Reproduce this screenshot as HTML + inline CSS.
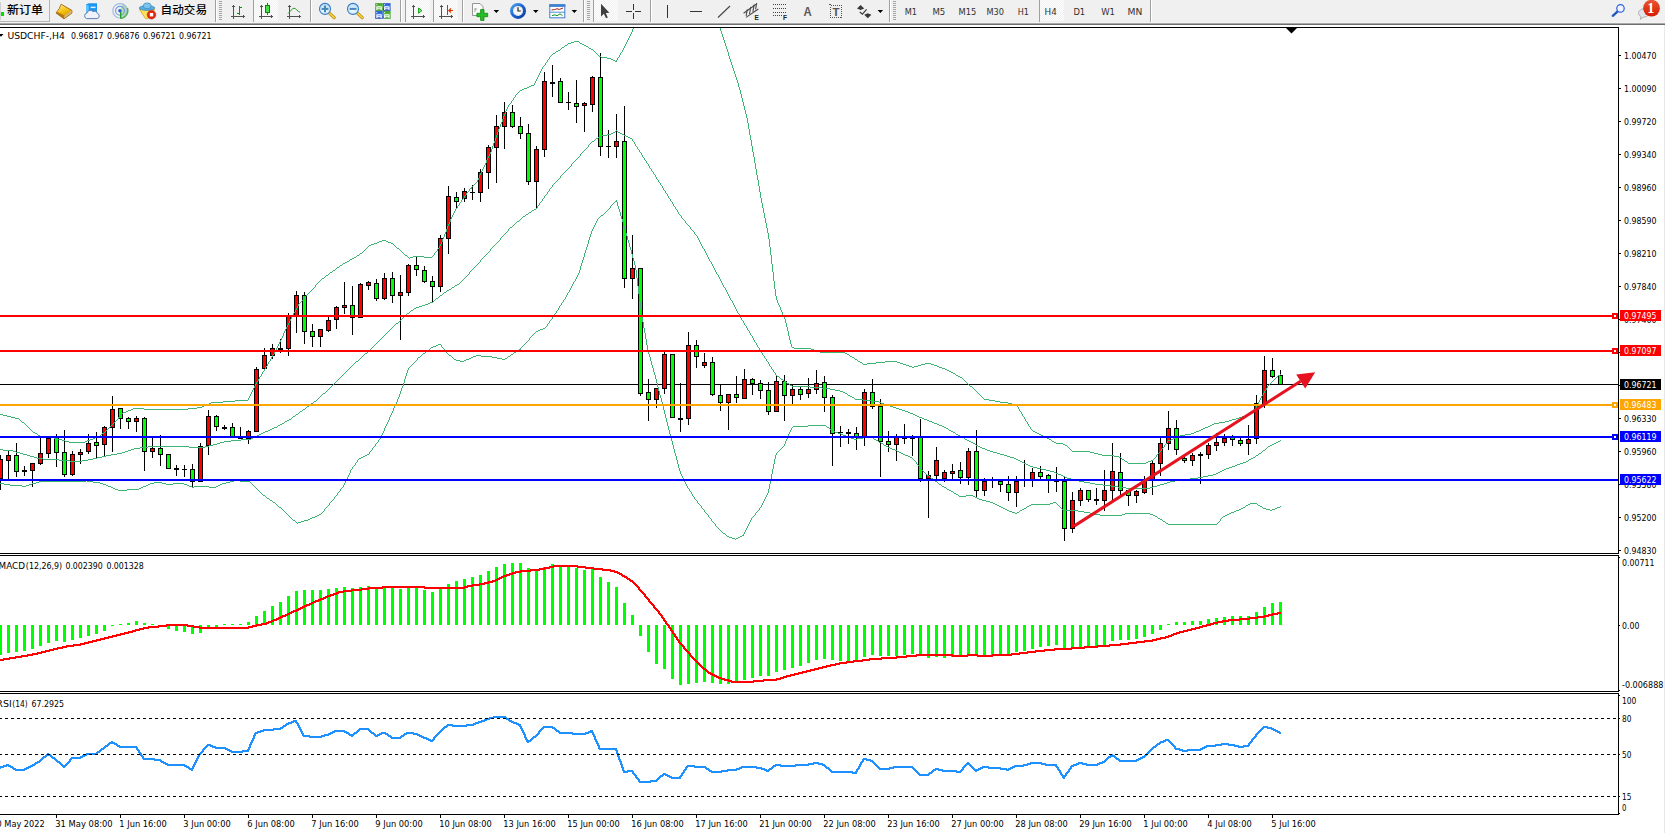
<!DOCTYPE html>
<html lang="zh-CN"><head><meta charset="utf-8"><title>USDCHF-,H4</title>
<style>
html,body{margin:0;padding:0;background:#fff;}
body{width:1665px;height:833px;overflow:hidden;position:relative;font-family:"Liberation Sans","Noto Sans CJK SC",sans-serif;}
#tb{position:absolute;left:0;top:0;width:1665px;height:25px;}
</style></head><body>
<svg id="tb" width="1665" height="25" viewBox="0 0 1665 25" font-family="'Liberation Sans','Noto Sans CJK SC',sans-serif">
<defs><linearGradient id="gGold" x1="0.2" y1="0" x2="0.8" y2="1"><stop offset="0" stop-color="#ffea80"/><stop offset="0.55" stop-color="#f5c010"/><stop offset="1" stop-color="#e0a000"/></linearGradient><linearGradient id="gBlue" x1="0" y1="0" x2="0" y2="1"><stop offset="0" stop-color="#1f50c8"/><stop offset="0.35" stop-color="#3a78e8"/><stop offset="1" stop-color="#1440b8"/></linearGradient><linearGradient id="gGreen" x1="0" y1="0" x2="0" y2="1"><stop offset="0" stop-color="#2c981c"/><stop offset="0.35" stop-color="#5cb83a"/><stop offset="1" stop-color="#2a9420"/></linearGradient><radialGradient id="gLens" cx="0.45" cy="0.7" r="0.8"><stop offset="0" stop-color="#eef8ff"/><stop offset="1" stop-color="#b4daf6"/></radialGradient><pattern id="chk" width="2" height="2" patternUnits="userSpaceOnUse"><rect width="2" height="2" fill="#f0f0f0"/><rect width="1" height="1" fill="#fff"/><rect x="1" y="1" width="1" height="1" fill="#fff"/></pattern><linearGradient id="gClock" x1="0" y1="0" x2="1" y2="1"><stop offset="0" stop-color="#4aa0f0"/><stop offset="0.5" stop-color="#1a64d0"/><stop offset="1" stop-color="#0a3ca0"/></linearGradient><linearGradient id="gBadge" x1="0" y1="0" x2="0" y2="1"><stop offset="0" stop-color="#ea5634"/><stop offset="1" stop-color="#d61a02"/></linearGradient></defs>
<rect x="0" y="0" width="1665" height="25" fill="#f0f0f0"/>
<g shape-rendering="crispEdges">
<rect x="0" y="22" width="1665" height="1" fill="#f4f4f4"/>
<rect x="0" y="23" width="1665" height="1" fill="#a8a8a8"/>
<rect x="0" y="24" width="1665" height="1" fill="#6e6e6e"/>
</g>
<g shape-rendering="crispEdges"><rect x="49" y="0" width="1" height="22" fill="#b4b4b4"/><rect x="0" y="21" width="50" height="1" fill="#b4b4b4"/><rect x="0" y="12" width="4" height="4" fill="#00e000"/><rect x="0" y="2" width="1" height="18" fill="#d0d0d0"/></g>
<text x="7" y="13.9" font-size="11.5px" font-weight="500" fill="#000" textLength="36" lengthAdjust="spacingAndGlyphs">新订单</text>
<g><polygon points="61.1,4.2 71.8,10.3 72,13 64,18.9 56,12.9 59.4,8.4" fill="#b87a10" stroke="#9a6208" stroke-width="0.8" stroke-linejoin="round"/><polygon points="64.4,15.7 71.4,10.6 71.6,12.7 64.2,18.2" fill="#ead9a2"/><path d="M64.4,16.6 L71.5,11.4 M64.3,17.5 L71.6,12.2" stroke="#b88a30" stroke-width="0.4" fill="none"/><polygon points="61.2,4.7 71.2,10.4 64.4,15.5 57.1,11.8 59.9,8.4" fill="url(#gGold)"/></g>
<g><polygon points="86,4.4 88.8,3.2 97,3.2 97,12.6 86,12.6" fill="#1e96ee"/><polygon points="86,4.4 88.8,5.6 88.8,12.6 86,12.6" fill="#62c2ff"/><rect x="90.6" y="6.6" width="5" height="1.5" fill="#d8efff"/><path d="M86.6,18.6 a2.9,2.9 0 0 1 0.4,-5.6 a3.4,3.4 0 0 1 6,-1.4 a3,3 0 0 1 4.4,1.8 a2.7,2.7 0 0 1 -0.2,5.2 z" fill="#eef2f9" stroke="#5d7db4" stroke-width="1"/></g>
<g fill="none"><path d="M120,10.8 L120.8,18.6 A8,8 0 0 0 123,3.4 z" fill="#9fd49f" stroke="none" opacity="0.75"/><circle cx="120" cy="10.8" r="7.2" stroke="#9db9e4" stroke-width="1.1"/><circle cx="120" cy="10.8" r="4.4" stroke="#6f97dc" stroke-width="1.1"/><path d="M120.6,18.4 A7.8,7.8 0 0 0 127.4,8" stroke="#58b058" stroke-width="1.4"/><rect x="120" y="11" width="1.3" height="7.6" fill="#22a022"/><circle cx="119.9" cy="10.7" r="1.7" fill="#2a5fd0" stroke="none"/></g>
<g><path d="M139.4,9.4 L154.6,9.4 L152,14 L147.6,18.8 L145.4,18.4 z" fill="#ffe15a" stroke="#d1a21a" stroke-width="0.8" stroke-linejoin="round"/><ellipse cx="147" cy="8" rx="7.8" ry="2.4" fill="#58aee2" stroke="#3a86b8" stroke-width="0.7"/><ellipse cx="147.2" cy="5.8" rx="4" ry="2.9" fill="#7cc4ee" stroke="#3a86b8" stroke-width="0.7"/><circle cx="151.5" cy="14.7" r="4.3" fill="#e42a0c" stroke="#b81c08" stroke-width="0.6"/><rect x="149.8" y="13" width="3.4" height="3.4" fill="#fff"/></g>
<text x="160.6" y="13.9" font-size="11.5px" font-weight="500" fill="#000" textLength="46.4" lengthAdjust="spacingAndGlyphs">自动交易</text>
<g shape-rendering="crispEdges"><rect x="215" y="0" width="1" height="22" fill="#a0a0a0"/><rect x="216" y="0" width="1" height="22" fill="#fff"/></g>
<g shape-rendering="crispEdges">
<rect x="219" y="1" width="3" height="1" fill="#a6a6a6"/>
<rect x="219" y="3" width="3" height="1" fill="#a6a6a6"/>
<rect x="219" y="5" width="3" height="1" fill="#a6a6a6"/>
<rect x="219" y="7" width="3" height="1" fill="#a6a6a6"/>
<rect x="219" y="9" width="3" height="1" fill="#a6a6a6"/>
<rect x="219" y="11" width="3" height="1" fill="#a6a6a6"/>
<rect x="219" y="13" width="3" height="1" fill="#a6a6a6"/>
<rect x="219" y="15" width="3" height="1" fill="#a6a6a6"/>
<rect x="219" y="17" width="3" height="1" fill="#a6a6a6"/>
<rect x="219" y="19" width="3" height="1" fill="#a6a6a6"/>
</g>
<g fill="#505050" shape-rendering="crispEdges"><rect x="233" y="5" width="1" height="14"/><rect x="231" y="16" width="14" height="1"/><rect x="232" y="6" width="3" height="1"/><rect x="243" y="15" width="1" height="3"/></g>
<g fill="#0a9010" shape-rendering="crispEdges"><rect x="239" y="6" width="1" height="9"/><rect x="240" y="7" width="2" height="1"/><rect x="237" y="13" width="2" height="1"/></g>
<rect x="254" y="0" width="24" height="21" fill="url(#chk)"/>
<rect x="253" y="0" width="1" height="22" fill="#a0a0a0" shape-rendering="crispEdges"/>
<g fill="#505050" shape-rendering="crispEdges"><rect x="261" y="5" width="1" height="14"/><rect x="259" y="16" width="14" height="1"/><rect x="260" y="6" width="3" height="1"/><rect x="271" y="15" width="1" height="3"/></g>
<g shape-rendering="crispEdges"><rect x="267" y="3" width="1" height="12" fill="#0a8a0a"/><rect x="265" y="5" width="5" height="8" fill="#0a8a0a"/><rect x="266" y="6" width="3" height="6" fill="#4ae04a"/></g>
<g fill="#505050" shape-rendering="crispEdges"><rect x="289" y="5" width="1" height="14"/><rect x="287" y="16" width="14" height="1"/><rect x="288" y="6" width="3" height="1"/><rect x="299" y="15" width="1" height="3"/></g>
<path d="M288,13.6 C290.5,11.4 292,8.2 294,8.2 C296,8.2 297.4,11.4 300,12.2" stroke="#2a9a2a" stroke-width="1" fill="none"/>
<g shape-rendering="crispEdges"><rect x="310" y="0" width="1" height="22" fill="#a0a0a0"/><rect x="311" y="0" width="1" height="22" fill="#fff"/></g>
<g><line x1="328.6" y1="12.4" x2="334.2" y2="17.6" stroke="#b98c14" stroke-width="3.2" stroke-linecap="round"/><line x1="328.6" y1="12.4" x2="334.2" y2="17.6" stroke="#f3d23c" stroke-width="1.7" stroke-linecap="round"/><circle cx="325" cy="8.9" r="5.5" fill="url(#gLens)" stroke="#3b7cc6" stroke-width="1.1"/><rect x="321.6" y="7.9" width="6.8" height="2" fill="#4787b8"/><rect x="324" y="5.5" width="2" height="6.8" fill="#4787b8"/></g>
<g><line x1="356.6" y1="12.4" x2="362.2" y2="17.6" stroke="#b98c14" stroke-width="3.2" stroke-linecap="round"/><line x1="356.6" y1="12.4" x2="362.2" y2="17.6" stroke="#f3d23c" stroke-width="1.7" stroke-linecap="round"/><circle cx="353" cy="8.9" r="5.5" fill="url(#gLens)" stroke="#3b7cc6" stroke-width="1.1"/><rect x="349.6" y="7.9" width="6.8" height="2" fill="#4787b8"/></g>
<rect x="375.2" y="3.2" width="7.6" height="7.6" fill="url(#gGreen)"/><rect x="376.2" y="4.2" width="1" height="1" fill="#fff" opacity="0.9"/><path d="M376.3,10.100000000000001 V7.0 Q376.3,6.300000000000001 377.0,6.300000000000001 H381.09999999999997 Q381.8,6.300000000000001 381.8,7.0 V10.100000000000001 H380.59999999999997 V9.3 H377.5 V10.100000000000001 z" fill="#fff"/><rect x="377.4" y="7.4" width="3.4" height="0.9" fill="url(#gGreen)" opacity="0.75"/>
<rect x="383" y="3.2" width="7.6" height="7.6" fill="url(#gBlue)"/><rect x="384" y="4.2" width="1" height="1" fill="#fff" opacity="0.9"/><path d="M384.1,10.100000000000001 V7.0 Q384.1,6.300000000000001 384.8,6.300000000000001 H388.9 Q389.6,6.300000000000001 389.6,7.0 V10.100000000000001 H388.4 V9.3 H385.3 V10.100000000000001 z" fill="#fff"/><rect x="385.2" y="7.4" width="3.4" height="0.9" fill="url(#gBlue)" opacity="0.75"/>
<rect x="375.2" y="11.1" width="7.6" height="7.6" fill="url(#gBlue)"/><rect x="376.2" y="12.1" width="1" height="1" fill="#fff" opacity="0.9"/><path d="M376.3,18.0 V14.899999999999999 Q376.3,14.2 377.0,14.2 H381.09999999999997 Q381.8,14.2 381.8,14.899999999999999 V18.0 H380.59999999999997 V17.2 H377.5 V18.0 z" fill="#fff"/><rect x="377.4" y="15.3" width="3.4" height="0.9" fill="url(#gBlue)" opacity="0.75"/>
<rect x="383" y="11.1" width="7.6" height="7.6" fill="url(#gGreen)"/><rect x="384" y="12.1" width="1" height="1" fill="#fff" opacity="0.9"/><path d="M384.1,18.0 V14.899999999999999 Q384.1,14.2 384.8,14.2 H388.9 Q389.6,14.2 389.6,14.899999999999999 V18.0 H388.4 V17.2 H385.3 V18.0 z" fill="#fff"/><rect x="385.2" y="15.3" width="3.4" height="0.9" fill="url(#gGreen)" opacity="0.75"/>
<g shape-rendering="crispEdges"><rect x="400" y="0" width="1" height="22" fill="#a0a0a0"/><rect x="401" y="0" width="1" height="22" fill="#fff"/></g>
<rect x="406" y="0" width="24" height="21" fill="url(#chk)"/>
<rect x="405" y="0" width="1" height="22" fill="#a0a0a0" shape-rendering="crispEdges"/>
<g fill="#505050" shape-rendering="crispEdges"><rect x="413" y="5" width="1" height="14"/><rect x="411" y="16" width="14" height="1"/><rect x="412" y="6" width="3" height="1"/><rect x="423" y="15" width="1" height="3"/></g>
<polygon points="418.5,8 418.5,13.2 422,10.6" fill="#7ee07e" stroke="#0a9a0a" stroke-width="0.9"/>
<rect x="434" y="0" width="24" height="21" fill="url(#chk)"/>
<rect x="433" y="0" width="1" height="22" fill="#a0a0a0" shape-rendering="crispEdges"/>
<g fill="#505050" shape-rendering="crispEdges"><rect x="441" y="5" width="1" height="14"/><rect x="439" y="16" width="14" height="1"/><rect x="440" y="6" width="3" height="1"/><rect x="451" y="15" width="1" height="3"/></g>
<rect x="447" y="5" width="1" height="10" fill="#1a6ab0" shape-rendering="crispEdges"/><path d="M453,10.5 H449 M451,8.5 L448.8,10.5 L451,12.5" stroke="#e03000" stroke-width="1.1" fill="none"/>
<g shape-rendering="crispEdges"><rect x="462" y="0" width="1" height="22" fill="#a0a0a0"/><rect x="463" y="0" width="1" height="22" fill="#fff"/></g>
<g><path d="M472.5,3.5 H480 L483,6.5 V15.5 H472.5 z" fill="#fafafa" stroke="#8a8a8a" stroke-width="0.9"/><path d="M475,8 V12 M475,9 H477" stroke="#8a8a8a" stroke-width="0.8" fill="none"/><path d="M480.6,9.6 h3.4 v3.7 h3.7 v3.4 h-3.7 v3.7 h-3.4 v-3.7 h-3.7 v-3.4 h3.7 z" fill="#22c022" stroke="#0a8a0a" stroke-width="0.8"/></g>
<polygon points="493.6,10 499.1,10 496.35,13" fill="#000"/>
<g><circle cx="518" cy="10.9" r="6.5" fill="#f4f6f8" stroke="url(#gClock)" stroke-width="3"/><circle cx="518" cy="10.9" r="4.4" fill="none" stroke="#a8b0b8" stroke-width="0.8" stroke-dasharray="0.7 1.6"/><path d="M518,7.2 V11 H520.8" stroke="#222" stroke-width="1.2" fill="none"/></g>
<polygon points="533,10 538.5,10 535.75,13" fill="#000"/>
<g><rect x="549.8" y="4.8" width="15" height="13" fill="#fff" stroke="#3d7fd0" stroke-width="1"/><rect x="549.3" y="4.3" width="16" height="2.6" fill="#3d7fd0"/><line x1="550" y1="12.2" x2="565" y2="12.2" stroke="#3d7fd0" stroke-width="0.9"/><path d="M551.5,10 L554.5,9.6 L557,8.8 L559.5,9.4 L563,8" stroke="#a02010" stroke-width="1" fill="none"/><path d="M552,15.6 L555,14.8 L557,15.8 L560,13.8 L562.5,15.6" stroke="#109020" stroke-width="1" fill="none"/></g>
<polygon points="571.6,10 577.1,10 574.35,13" fill="#000"/>
<g shape-rendering="crispEdges"><rect x="583" y="0" width="1" height="22" fill="#a0a0a0"/><rect x="584" y="0" width="1" height="22" fill="#fff"/></g>
<g shape-rendering="crispEdges">
<rect x="587" y="1" width="3" height="1" fill="#a6a6a6"/>
<rect x="587" y="3" width="3" height="1" fill="#a6a6a6"/>
<rect x="587" y="5" width="3" height="1" fill="#a6a6a6"/>
<rect x="587" y="7" width="3" height="1" fill="#a6a6a6"/>
<rect x="587" y="9" width="3" height="1" fill="#a6a6a6"/>
<rect x="587" y="11" width="3" height="1" fill="#a6a6a6"/>
<rect x="587" y="13" width="3" height="1" fill="#a6a6a6"/>
<rect x="587" y="15" width="3" height="1" fill="#a6a6a6"/>
<rect x="587" y="17" width="3" height="1" fill="#a6a6a6"/>
<rect x="587" y="19" width="3" height="1" fill="#a6a6a6"/>
</g>
<rect x="594" y="0" width="24" height="21" fill="url(#chk)"/>
<rect x="593" y="0" width="1" height="22" fill="#a0a0a0" shape-rendering="crispEdges"/>
<polygon points="601,3.8 601,16.4 603.9,13.7 606,18.3 607.8,17.5 605.8,13 609.4,12.7" fill="#404040"/>
<g shape-rendering="crispEdges" fill="#333"><rect x="633" y="4" width="1" height="15"/><rect x="626" y="11" width="15" height="1"/></g>
<rect x="632" y="10" width="3" height="3" fill="#f0f0f0"/>
<g shape-rendering="crispEdges"><rect x="650" y="0" width="1" height="22" fill="#a0a0a0"/><rect x="651" y="0" width="1" height="22" fill="#fff"/></g>
<g shape-rendering="crispEdges" fill="#333"><rect x="667" y="5" width="1" height="13"/><rect x="690" y="11" width="12" height="1"/></g>
<line x1="718" y1="17.5" x2="730" y2="6" stroke="#444" stroke-width="1.1"/>
<g stroke="#484848" stroke-width="1.1" fill="none"><line x1="743.6" y1="13.2" x2="756" y2="4.2"/><line x1="746" y1="17.4" x2="758.4" y2="9"/><line x1="747.3" y1="9.4" x2="746.1" y2="16"/><line x1="750.7" y1="7" x2="749.5" y2="14"/><line x1="754.1" y1="4.6" x2="752.9" y2="11.8"/><line x1="756.7" y1="3" x2="755.6" y2="9.4"/></g>
<text x="754.6" y="19.6" font-size="6.5px" font-weight="bold" fill="#222">E</text>
<g stroke="#444" stroke-width="1" stroke-dasharray="1 1" shape-rendering="crispEdges"><line x1="773" y1="4.5" x2="787" y2="4.5"/><line x1="773" y1="8.5" x2="787" y2="8.5"/><line x1="773" y1="12.5" x2="787" y2="12.5"/><line x1="773" y1="15.5" x2="783" y2="15.5"/></g>
<text x="783" y="19.6" font-size="6.5px" font-weight="bold" fill="#222">F</text>
<text x="803.6" y="15.9" font-size="12.2px" font-weight="bold" fill="#5a5a5a" textLength="8.2" lengthAdjust="spacingAndGlyphs">A</text>
<rect x="830.5" y="5.5" width="11" height="12" fill="none" stroke="#555" stroke-width="1" stroke-dasharray="1 1" shape-rendering="crispEdges"/><rect x="829" y="4" width="2" height="1" fill="#555" shape-rendering="crispEdges"/>
<text x="832.4" y="15.5" font-size="10.4px" font-weight="bold" fill="#555" textLength="7" lengthAdjust="spacingAndGlyphs">T</text>
<g fill="#3a3a3a"><polygon points="857,8.4 860.6,5 864.2,8.4 860.6,9.9"/><polygon points="864.2,14.8 867.8,13.3 871.4,14.8 867.8,18.2"/><path d="M859.8,12 L862.4,14.2 L866.6,9.4" stroke="#3a3a3a" stroke-width="1.2" fill="none"/></g>
<polygon points="877.6,10 883.1,10 880.35,13" fill="#000"/>
<g shape-rendering="crispEdges"><rect x="889" y="0" width="1" height="22" fill="#a0a0a0"/><rect x="890" y="0" width="1" height="22" fill="#fff"/></g>
<g shape-rendering="crispEdges">
<rect x="893" y="1" width="3" height="1" fill="#a6a6a6"/>
<rect x="893" y="3" width="3" height="1" fill="#a6a6a6"/>
<rect x="893" y="5" width="3" height="1" fill="#a6a6a6"/>
<rect x="893" y="7" width="3" height="1" fill="#a6a6a6"/>
<rect x="893" y="9" width="3" height="1" fill="#a6a6a6"/>
<rect x="893" y="11" width="3" height="1" fill="#a6a6a6"/>
<rect x="893" y="13" width="3" height="1" fill="#a6a6a6"/>
<rect x="893" y="15" width="3" height="1" fill="#a6a6a6"/>
<rect x="893" y="17" width="3" height="1" fill="#a6a6a6"/>
<rect x="893" y="19" width="3" height="1" fill="#a6a6a6"/>
</g>
<rect x="1040" y="0" width="24" height="21" fill="url(#chk)"/>
<rect x="1039" y="0" width="1" height="22" fill="#a0a0a0" shape-rendering="crispEdges"/>
<text x="904.7" y="15" font-family="'DejaVu Sans','Liberation Sans',sans-serif" font-size="9px" fill="#303030" textLength="12.3" lengthAdjust="spacingAndGlyphs">M1</text>
<text x="932.4" y="15" font-family="'DejaVu Sans','Liberation Sans',sans-serif" font-size="9px" fill="#303030" textLength="12.8" lengthAdjust="spacingAndGlyphs">M5</text>
<text x="958.5" y="15" font-family="'DejaVu Sans','Liberation Sans',sans-serif" font-size="9px" fill="#303030" textLength="17.7" lengthAdjust="spacingAndGlyphs">M15</text>
<text x="986.5" y="15" font-family="'DejaVu Sans','Liberation Sans',sans-serif" font-size="9px" fill="#303030" textLength="17.5" lengthAdjust="spacingAndGlyphs">M30</text>
<text x="1017.8" y="15" font-family="'DejaVu Sans','Liberation Sans',sans-serif" font-size="9px" fill="#303030" textLength="11.2" lengthAdjust="spacingAndGlyphs">H1</text>
<text x="1044.6" y="15" font-family="'DejaVu Sans','Liberation Sans',sans-serif" font-size="9px" fill="#303030" textLength="12.2" lengthAdjust="spacingAndGlyphs">H4</text>
<text x="1073.4" y="15" font-family="'DejaVu Sans','Liberation Sans',sans-serif" font-size="9px" fill="#303030" textLength="11.8" lengthAdjust="spacingAndGlyphs">D1</text>
<text x="1101.2" y="15" font-family="'DejaVu Sans','Liberation Sans',sans-serif" font-size="9px" fill="#303030" textLength="13.8" lengthAdjust="spacingAndGlyphs">W1</text>
<text x="1127.6" y="15" font-family="'DejaVu Sans','Liberation Sans',sans-serif" font-size="9px" fill="#303030" textLength="14.8" lengthAdjust="spacingAndGlyphs">MN</text>
<g shape-rendering="crispEdges"><rect x="1150" y="0" width="1" height="22" fill="#a0a0a0"/><rect x="1151" y="0" width="1" height="22" fill="#fff"/></g>
<g><line x1="1612.8" y1="15.8" x2="1617.4" y2="11.6" stroke="#2456c8" stroke-width="2.4" stroke-linecap="round"/><circle cx="1620.5" cy="8.4" r="3.7" fill="#f2f4ff" stroke="#2a62d8" stroke-width="1.2"/></g>
<g><path d="M1640.2,19.4 L1641,16.6 A5.2,4.2 0 1 1 1643.4,17.2 z" fill="#e2e2ec" stroke="#ababab" stroke-width="0.9" stroke-linejoin="round"/><circle cx="1651.5" cy="8.2" r="8.4" fill="url(#gBadge)"/><text x="1650.8" y="13.1" font-family="'Liberation Serif',serif" font-weight="bold" font-size="14.2px" fill="#fff" text-anchor="middle">1</text></g>
</svg>
<svg width="1665" height="808" viewBox="0 25 1665 808" style="position:absolute;left:0;top:25px" font-family="'DejaVu Sans', 'Liberation Sans', sans-serif" font-size="9px">
<defs><clipPath id="cm"><rect x="0" y="28" width="1618" height="525"/></clipPath><clipPath id="c2"><rect x="0" y="556" width="1618" height="135"/></clipPath><clipPath id="c3"><rect x="0" y="694" width="1618" height="120"/></clipPath></defs>
<rect x="0" y="25" width="1665" height="808" fill="#fff"/>
<rect x="1664" y="25" width="1" height="808" fill="#e8e8e8"/>
<g shape-rendering="crispEdges">
<rect x="0" y="384" width="1618" height="1" fill="#000"/>
<rect x="0" y="455" width="1" height="35" fill="#000"/>
<rect x="-2" y="459" width="5" height="20" fill="#000"/>
<rect x="-1" y="460" width="3" height="18" fill="#ff0000"/>
<rect x="8" y="451" width="1" height="29" fill="#000"/>
<rect x="6" y="455" width="5" height="6" fill="#000"/>
<rect x="7" y="456" width="3" height="4" fill="#ff0000"/>
<rect x="16" y="443" width="1" height="34" fill="#000"/>
<rect x="14" y="455" width="5" height="17" fill="#000"/>
<rect x="15" y="456" width="3" height="15" fill="#00ff00"/>
<rect x="24" y="466" width="1" height="10" fill="#000"/>
<rect x="22" y="470" width="5" height="2" fill="#000"/>
<rect x="32" y="463" width="1" height="24" fill="#000"/>
<rect x="30" y="463" width="5" height="8" fill="#000"/>
<rect x="31" y="464" width="3" height="6" fill="#ff0000"/>
<rect x="40" y="436" width="1" height="29" fill="#000"/>
<rect x="38" y="453" width="5" height="11" fill="#000"/>
<rect x="39" y="454" width="3" height="9" fill="#ff0000"/>
<rect x="48" y="438" width="1" height="20" fill="#000"/>
<rect x="46" y="438" width="5" height="16" fill="#000"/>
<rect x="47" y="439" width="3" height="14" fill="#ff0000"/>
<rect x="56" y="434" width="1" height="33" fill="#000"/>
<rect x="54" y="438" width="5" height="15" fill="#000"/>
<rect x="55" y="439" width="3" height="13" fill="#00ff00"/>
<rect x="64" y="430" width="1" height="47" fill="#000"/>
<rect x="62" y="452" width="5" height="23" fill="#000"/>
<rect x="63" y="453" width="3" height="21" fill="#00ff00"/>
<rect x="72" y="451" width="1" height="25" fill="#000"/>
<rect x="70" y="454" width="5" height="21" fill="#000"/>
<rect x="71" y="455" width="3" height="19" fill="#ff0000"/>
<rect x="80" y="449" width="1" height="15" fill="#000"/>
<rect x="78" y="452" width="5" height="3" fill="#000"/>
<rect x="79" y="453" width="3" height="1" fill="#ff0000"/>
<rect x="88" y="434" width="1" height="20" fill="#000"/>
<rect x="86" y="443" width="5" height="9" fill="#000"/>
<rect x="87" y="444" width="3" height="7" fill="#ff0000"/>
<rect x="96" y="432" width="1" height="26" fill="#000"/>
<rect x="94" y="442" width="5" height="4" fill="#000"/>
<rect x="95" y="443" width="3" height="2" fill="#00ff00"/>
<rect x="104" y="426" width="1" height="30" fill="#000"/>
<rect x="102" y="427" width="5" height="18" fill="#000"/>
<rect x="103" y="428" width="3" height="16" fill="#ff0000"/>
<rect x="112" y="396" width="1" height="56" fill="#000"/>
<rect x="110" y="409" width="5" height="19" fill="#000"/>
<rect x="111" y="410" width="3" height="17" fill="#ff0000"/>
<rect x="120" y="408" width="1" height="21" fill="#000"/>
<rect x="118" y="408" width="5" height="11" fill="#000"/>
<rect x="119" y="409" width="3" height="9" fill="#00ff00"/>
<rect x="128" y="417" width="1" height="12" fill="#000"/>
<rect x="126" y="418" width="5" height="4" fill="#000"/>
<rect x="127" y="419" width="3" height="2" fill="#00ff00"/>
<rect x="136" y="416" width="1" height="16" fill="#000"/>
<rect x="134" y="418" width="5" height="4" fill="#000"/>
<rect x="135" y="419" width="3" height="2" fill="#ff0000"/>
<rect x="144" y="417" width="1" height="54" fill="#000"/>
<rect x="142" y="418" width="5" height="34" fill="#000"/>
<rect x="143" y="419" width="3" height="32" fill="#00ff00"/>
<rect x="152" y="438" width="1" height="20" fill="#000"/>
<rect x="150" y="448" width="5" height="4" fill="#000"/>
<rect x="151" y="449" width="3" height="2" fill="#ff0000"/>
<rect x="160" y="435" width="1" height="31" fill="#000"/>
<rect x="158" y="448" width="5" height="7" fill="#000"/>
<rect x="159" y="449" width="3" height="5" fill="#00ff00"/>
<rect x="168" y="454" width="1" height="15" fill="#000"/>
<rect x="166" y="454" width="5" height="15" fill="#000"/>
<rect x="167" y="455" width="3" height="13" fill="#00ff00"/>
<rect x="176" y="465" width="1" height="11" fill="#000"/>
<rect x="174" y="468" width="5" height="2" fill="#000"/>
<rect x="184" y="465" width="1" height="12" fill="#000"/>
<rect x="182" y="469" width="5" height="1" fill="#000"/>
<rect x="192" y="464" width="1" height="23" fill="#000"/>
<rect x="190" y="469" width="5" height="13" fill="#000"/>
<rect x="191" y="470" width="3" height="11" fill="#00ff00"/>
<rect x="200" y="443" width="1" height="39" fill="#000"/>
<rect x="198" y="446" width="5" height="36" fill="#000"/>
<rect x="199" y="447" width="3" height="34" fill="#ff0000"/>
<rect x="208" y="410" width="1" height="45" fill="#000"/>
<rect x="206" y="416" width="5" height="30" fill="#000"/>
<rect x="207" y="417" width="3" height="28" fill="#ff0000"/>
<rect x="216" y="415" width="1" height="16" fill="#000"/>
<rect x="214" y="416" width="5" height="11" fill="#000"/>
<rect x="215" y="417" width="3" height="9" fill="#00ff00"/>
<rect x="224" y="425" width="1" height="5" fill="#000"/>
<rect x="222" y="427" width="5" height="2" fill="#000"/>
<rect x="232" y="423" width="1" height="15" fill="#000"/>
<rect x="230" y="427" width="5" height="11" fill="#000"/>
<rect x="231" y="428" width="3" height="9" fill="#00ff00"/>
<rect x="240" y="427" width="1" height="12" fill="#000"/>
<rect x="238" y="438" width="5" height="1" fill="#000"/>
<rect x="248" y="430" width="1" height="14" fill="#000"/>
<rect x="246" y="431" width="5" height="8" fill="#000"/>
<rect x="247" y="432" width="3" height="6" fill="#ff0000"/>
<rect x="256" y="367" width="1" height="65" fill="#000"/>
<rect x="254" y="369" width="5" height="63" fill="#000"/>
<rect x="255" y="370" width="3" height="61" fill="#ff0000"/>
<rect x="264" y="348" width="1" height="23" fill="#000"/>
<rect x="262" y="355" width="5" height="14" fill="#000"/>
<rect x="263" y="356" width="3" height="12" fill="#ff0000"/>
<rect x="272" y="344" width="1" height="15" fill="#000"/>
<rect x="270" y="348" width="5" height="8" fill="#000"/>
<rect x="271" y="349" width="3" height="6" fill="#ff0000"/>
<rect x="280" y="339" width="1" height="14" fill="#000"/>
<rect x="278" y="348" width="5" height="2" fill="#000"/>
<rect x="288" y="313" width="1" height="43" fill="#000"/>
<rect x="286" y="316" width="5" height="33" fill="#000"/>
<rect x="287" y="317" width="3" height="31" fill="#ff0000"/>
<rect x="296" y="291" width="1" height="42" fill="#000"/>
<rect x="294" y="295" width="5" height="22" fill="#000"/>
<rect x="295" y="296" width="3" height="20" fill="#ff0000"/>
<rect x="304" y="292" width="1" height="52" fill="#000"/>
<rect x="302" y="295" width="5" height="37" fill="#000"/>
<rect x="303" y="296" width="3" height="35" fill="#00ff00"/>
<rect x="312" y="324" width="1" height="23" fill="#000"/>
<rect x="310" y="331" width="5" height="6" fill="#000"/>
<rect x="311" y="332" width="3" height="4" fill="#00ff00"/>
<rect x="320" y="329" width="1" height="18" fill="#000"/>
<rect x="318" y="329" width="5" height="8" fill="#000"/>
<rect x="319" y="330" width="3" height="6" fill="#ff0000"/>
<rect x="328" y="317" width="1" height="15" fill="#000"/>
<rect x="326" y="320" width="5" height="11" fill="#000"/>
<rect x="327" y="321" width="3" height="9" fill="#ff0000"/>
<rect x="336" y="306" width="1" height="23" fill="#000"/>
<rect x="334" y="307" width="5" height="13" fill="#000"/>
<rect x="335" y="308" width="3" height="11" fill="#ff0000"/>
<rect x="344" y="282" width="1" height="32" fill="#000"/>
<rect x="342" y="305" width="5" height="3" fill="#000"/>
<rect x="343" y="306" width="3" height="1" fill="#ff0000"/>
<rect x="352" y="286" width="1" height="49" fill="#000"/>
<rect x="350" y="305" width="5" height="13" fill="#000"/>
<rect x="351" y="306" width="3" height="11" fill="#00ff00"/>
<rect x="360" y="283" width="1" height="35" fill="#000"/>
<rect x="358" y="284" width="5" height="34" fill="#000"/>
<rect x="359" y="285" width="3" height="32" fill="#ff0000"/>
<rect x="368" y="281" width="1" height="9" fill="#000"/>
<rect x="366" y="282" width="5" height="4" fill="#000"/>
<rect x="367" y="283" width="3" height="2" fill="#ff0000"/>
<rect x="376" y="279" width="1" height="22" fill="#000"/>
<rect x="374" y="283" width="5" height="16" fill="#000"/>
<rect x="375" y="284" width="3" height="14" fill="#00ff00"/>
<rect x="384" y="273" width="1" height="27" fill="#000"/>
<rect x="382" y="278" width="5" height="21" fill="#000"/>
<rect x="383" y="279" width="3" height="19" fill="#ff0000"/>
<rect x="392" y="272" width="1" height="31" fill="#000"/>
<rect x="390" y="278" width="5" height="18" fill="#000"/>
<rect x="391" y="279" width="3" height="16" fill="#00ff00"/>
<rect x="400" y="275" width="1" height="65" fill="#000"/>
<rect x="398" y="292" width="5" height="4" fill="#000"/>
<rect x="399" y="293" width="3" height="2" fill="#ff0000"/>
<rect x="408" y="264" width="1" height="32" fill="#000"/>
<rect x="406" y="265" width="5" height="28" fill="#000"/>
<rect x="407" y="266" width="3" height="26" fill="#ff0000"/>
<rect x="416" y="257" width="1" height="19" fill="#000"/>
<rect x="414" y="265" width="5" height="5" fill="#000"/>
<rect x="415" y="266" width="3" height="3" fill="#00ff00"/>
<rect x="424" y="266" width="1" height="17" fill="#000"/>
<rect x="422" y="270" width="5" height="12" fill="#000"/>
<rect x="423" y="271" width="3" height="10" fill="#00ff00"/>
<rect x="432" y="276" width="1" height="26" fill="#000"/>
<rect x="430" y="281" width="5" height="6" fill="#000"/>
<rect x="431" y="282" width="3" height="4" fill="#00ff00"/>
<rect x="440" y="235" width="1" height="57" fill="#000"/>
<rect x="438" y="238" width="5" height="49" fill="#000"/>
<rect x="439" y="239" width="3" height="47" fill="#ff0000"/>
<rect x="448" y="186" width="1" height="68" fill="#000"/>
<rect x="446" y="196" width="5" height="43" fill="#000"/>
<rect x="447" y="197" width="3" height="41" fill="#ff0000"/>
<rect x="456" y="192" width="1" height="16" fill="#000"/>
<rect x="454" y="197" width="5" height="5" fill="#000"/>
<rect x="455" y="198" width="3" height="3" fill="#00ff00"/>
<rect x="464" y="188" width="1" height="14" fill="#000"/>
<rect x="462" y="191" width="5" height="8" fill="#000"/>
<rect x="463" y="192" width="3" height="6" fill="#ff0000"/>
<rect x="472" y="185" width="1" height="15" fill="#000"/>
<rect x="470" y="192" width="5" height="1" fill="#000"/>
<rect x="480" y="169" width="1" height="33" fill="#000"/>
<rect x="478" y="172" width="5" height="21" fill="#000"/>
<rect x="479" y="173" width="3" height="19" fill="#ff0000"/>
<rect x="488" y="145" width="1" height="44" fill="#000"/>
<rect x="486" y="147" width="5" height="26" fill="#000"/>
<rect x="487" y="148" width="3" height="24" fill="#ff0000"/>
<rect x="496" y="115" width="1" height="68" fill="#000"/>
<rect x="494" y="126" width="5" height="22" fill="#000"/>
<rect x="495" y="127" width="3" height="20" fill="#ff0000"/>
<rect x="504" y="102" width="1" height="47" fill="#000"/>
<rect x="502" y="112" width="5" height="15" fill="#000"/>
<rect x="503" y="113" width="3" height="13" fill="#ff0000"/>
<rect x="512" y="105" width="1" height="23" fill="#000"/>
<rect x="510" y="112" width="5" height="15" fill="#000"/>
<rect x="511" y="113" width="3" height="13" fill="#00ff00"/>
<rect x="520" y="117" width="1" height="22" fill="#000"/>
<rect x="518" y="126" width="5" height="8" fill="#000"/>
<rect x="519" y="127" width="3" height="6" fill="#00ff00"/>
<rect x="528" y="124" width="1" height="61" fill="#000"/>
<rect x="526" y="133" width="5" height="49" fill="#000"/>
<rect x="527" y="134" width="3" height="47" fill="#00ff00"/>
<rect x="536" y="146" width="1" height="62" fill="#000"/>
<rect x="534" y="149" width="5" height="33" fill="#000"/>
<rect x="535" y="150" width="3" height="31" fill="#ff0000"/>
<rect x="544" y="72" width="1" height="85" fill="#000"/>
<rect x="542" y="81" width="5" height="69" fill="#000"/>
<rect x="543" y="82" width="3" height="67" fill="#ff0000"/>
<rect x="552" y="65" width="1" height="32" fill="#000"/>
<rect x="550" y="82" width="5" height="2" fill="#000"/>
<rect x="560" y="78" width="1" height="25" fill="#000"/>
<rect x="558" y="81" width="5" height="22" fill="#000"/>
<rect x="559" y="82" width="3" height="20" fill="#00ff00"/>
<rect x="568" y="92" width="1" height="18" fill="#000"/>
<rect x="566" y="102" width="5" height="1" fill="#000"/>
<rect x="576" y="80" width="1" height="43" fill="#000"/>
<rect x="574" y="103" width="5" height="4" fill="#000"/>
<rect x="575" y="104" width="3" height="2" fill="#00ff00"/>
<rect x="584" y="102" width="1" height="30" fill="#000"/>
<rect x="582" y="103" width="5" height="3" fill="#000"/>
<rect x="583" y="104" width="3" height="1" fill="#ff0000"/>
<rect x="592" y="76" width="1" height="36" fill="#000"/>
<rect x="590" y="77" width="5" height="28" fill="#000"/>
<rect x="591" y="78" width="3" height="26" fill="#ff0000"/>
<rect x="600" y="53" width="1" height="103" fill="#000"/>
<rect x="598" y="77" width="5" height="70" fill="#000"/>
<rect x="599" y="78" width="3" height="68" fill="#00ff00"/>
<rect x="608" y="130" width="1" height="28" fill="#000"/>
<rect x="606" y="146" width="5" height="1" fill="#000"/>
<rect x="616" y="114" width="1" height="44" fill="#000"/>
<rect x="614" y="141" width="5" height="6" fill="#000"/>
<rect x="615" y="142" width="3" height="4" fill="#ff0000"/>
<rect x="624" y="106" width="1" height="182" fill="#000"/>
<rect x="622" y="141" width="5" height="138" fill="#000"/>
<rect x="623" y="142" width="3" height="136" fill="#00ff00"/>
<rect x="632" y="235" width="1" height="64" fill="#000"/>
<rect x="630" y="268" width="5" height="11" fill="#000"/>
<rect x="631" y="269" width="3" height="9" fill="#ff0000"/>
<rect x="640" y="268" width="1" height="128" fill="#000"/>
<rect x="638" y="268" width="5" height="126" fill="#000"/>
<rect x="639" y="269" width="3" height="124" fill="#00ff00"/>
<rect x="648" y="379" width="1" height="42" fill="#000"/>
<rect x="646" y="392" width="5" height="8" fill="#000"/>
<rect x="647" y="393" width="3" height="6" fill="#00ff00"/>
<rect x="656" y="388" width="1" height="20" fill="#000"/>
<rect x="654" y="388" width="5" height="12" fill="#000"/>
<rect x="655" y="389" width="3" height="10" fill="#ff0000"/>
<rect x="664" y="352" width="1" height="42" fill="#000"/>
<rect x="662" y="354" width="5" height="35" fill="#000"/>
<rect x="663" y="355" width="3" height="33" fill="#ff0000"/>
<rect x="672" y="354" width="1" height="64" fill="#000"/>
<rect x="670" y="354" width="5" height="64" fill="#000"/>
<rect x="671" y="355" width="3" height="62" fill="#00ff00"/>
<rect x="680" y="383" width="1" height="49" fill="#000"/>
<rect x="678" y="418" width="5" height="2" fill="#000"/>
<rect x="688" y="332" width="1" height="93" fill="#000"/>
<rect x="686" y="345" width="5" height="74" fill="#000"/>
<rect x="687" y="346" width="3" height="72" fill="#ff0000"/>
<rect x="696" y="340" width="1" height="28" fill="#000"/>
<rect x="694" y="345" width="5" height="12" fill="#000"/>
<rect x="695" y="346" width="3" height="10" fill="#00ff00"/>
<rect x="704" y="353" width="1" height="15" fill="#000"/>
<rect x="702" y="362" width="5" height="4" fill="#000"/>
<rect x="703" y="363" width="3" height="2" fill="#ff0000"/>
<rect x="712" y="357" width="1" height="39" fill="#000"/>
<rect x="710" y="362" width="5" height="33" fill="#000"/>
<rect x="711" y="363" width="3" height="31" fill="#00ff00"/>
<rect x="720" y="385" width="1" height="26" fill="#000"/>
<rect x="718" y="395" width="5" height="8" fill="#000"/>
<rect x="719" y="396" width="3" height="6" fill="#00ff00"/>
<rect x="728" y="394" width="1" height="36" fill="#000"/>
<rect x="726" y="394" width="5" height="9" fill="#000"/>
<rect x="727" y="395" width="3" height="7" fill="#ff0000"/>
<rect x="736" y="376" width="1" height="27" fill="#000"/>
<rect x="734" y="394" width="5" height="4" fill="#000"/>
<rect x="735" y="395" width="3" height="2" fill="#00ff00"/>
<rect x="744" y="369" width="1" height="30" fill="#000"/>
<rect x="742" y="379" width="5" height="20" fill="#000"/>
<rect x="743" y="380" width="3" height="18" fill="#ff0000"/>
<rect x="752" y="378" width="1" height="17" fill="#000"/>
<rect x="750" y="379" width="5" height="5" fill="#000"/>
<rect x="751" y="380" width="3" height="3" fill="#00ff00"/>
<rect x="760" y="380" width="1" height="19" fill="#000"/>
<rect x="758" y="383" width="5" height="8" fill="#000"/>
<rect x="759" y="384" width="3" height="6" fill="#00ff00"/>
<rect x="768" y="382" width="1" height="33" fill="#000"/>
<rect x="766" y="390" width="5" height="22" fill="#000"/>
<rect x="767" y="391" width="3" height="20" fill="#00ff00"/>
<rect x="776" y="376" width="1" height="36" fill="#000"/>
<rect x="774" y="381" width="5" height="31" fill="#000"/>
<rect x="775" y="382" width="3" height="29" fill="#ff0000"/>
<rect x="784" y="375" width="1" height="46" fill="#000"/>
<rect x="782" y="381" width="5" height="15" fill="#000"/>
<rect x="783" y="382" width="3" height="13" fill="#00ff00"/>
<rect x="792" y="385" width="1" height="19" fill="#000"/>
<rect x="790" y="389" width="5" height="7" fill="#000"/>
<rect x="791" y="390" width="3" height="5" fill="#ff0000"/>
<rect x="800" y="386" width="1" height="14" fill="#000"/>
<rect x="798" y="389" width="5" height="6" fill="#000"/>
<rect x="799" y="390" width="3" height="4" fill="#00ff00"/>
<rect x="808" y="378" width="1" height="20" fill="#000"/>
<rect x="806" y="389" width="5" height="5" fill="#000"/>
<rect x="807" y="390" width="3" height="3" fill="#ff0000"/>
<rect x="816" y="370" width="1" height="24" fill="#000"/>
<rect x="814" y="383" width="5" height="7" fill="#000"/>
<rect x="815" y="384" width="3" height="5" fill="#ff0000"/>
<rect x="824" y="376" width="1" height="36" fill="#000"/>
<rect x="822" y="382" width="5" height="16" fill="#000"/>
<rect x="823" y="383" width="3" height="14" fill="#00ff00"/>
<rect x="832" y="395" width="1" height="71" fill="#000"/>
<rect x="830" y="397" width="5" height="37" fill="#000"/>
<rect x="831" y="398" width="3" height="35" fill="#00ff00"/>
<rect x="840" y="426" width="1" height="21" fill="#000"/>
<rect x="838" y="432" width="5" height="1" fill="#000"/>
<rect x="848" y="429" width="1" height="15" fill="#000"/>
<rect x="846" y="432" width="5" height="2" fill="#000"/>
<rect x="856" y="427" width="1" height="23" fill="#000"/>
<rect x="854" y="433" width="5" height="4" fill="#000"/>
<rect x="855" y="434" width="3" height="2" fill="#00ff00"/>
<rect x="864" y="389" width="1" height="57" fill="#000"/>
<rect x="862" y="392" width="5" height="45" fill="#000"/>
<rect x="863" y="393" width="3" height="43" fill="#ff0000"/>
<rect x="872" y="379" width="1" height="30" fill="#000"/>
<rect x="870" y="392" width="5" height="15" fill="#000"/>
<rect x="871" y="393" width="3" height="13" fill="#00ff00"/>
<rect x="880" y="399" width="1" height="78" fill="#000"/>
<rect x="878" y="406" width="5" height="36" fill="#000"/>
<rect x="879" y="407" width="3" height="34" fill="#00ff00"/>
<rect x="888" y="431" width="1" height="21" fill="#000"/>
<rect x="886" y="441" width="5" height="4" fill="#000"/>
<rect x="887" y="442" width="3" height="2" fill="#00ff00"/>
<rect x="896" y="434" width="1" height="27" fill="#000"/>
<rect x="894" y="437" width="5" height="8" fill="#000"/>
<rect x="895" y="438" width="3" height="6" fill="#ff0000"/>
<rect x="904" y="424" width="1" height="20" fill="#000"/>
<rect x="902" y="438" width="5" height="1" fill="#000"/>
<rect x="912" y="435" width="1" height="21" fill="#000"/>
<rect x="910" y="438" width="5" height="1" fill="#000"/>
<rect x="920" y="419" width="1" height="63" fill="#000"/>
<rect x="918" y="437" width="5" height="42" fill="#000"/>
<rect x="919" y="438" width="3" height="40" fill="#00ff00"/>
<rect x="928" y="471" width="1" height="47" fill="#000"/>
<rect x="926" y="475" width="5" height="4" fill="#000"/>
<rect x="927" y="476" width="3" height="2" fill="#ff0000"/>
<rect x="936" y="447" width="1" height="32" fill="#000"/>
<rect x="934" y="460" width="5" height="16" fill="#000"/>
<rect x="935" y="461" width="3" height="14" fill="#ff0000"/>
<rect x="944" y="470" width="1" height="12" fill="#000"/>
<rect x="942" y="472" width="5" height="7" fill="#000"/>
<rect x="943" y="473" width="3" height="5" fill="#ff0000"/>
<rect x="952" y="464" width="1" height="15" fill="#000"/>
<rect x="950" y="471" width="5" height="3" fill="#000"/>
<rect x="951" y="472" width="3" height="1" fill="#ff0000"/>
<rect x="960" y="462" width="1" height="22" fill="#000"/>
<rect x="958" y="470" width="5" height="8" fill="#000"/>
<rect x="959" y="471" width="3" height="6" fill="#00ff00"/>
<rect x="968" y="448" width="1" height="37" fill="#000"/>
<rect x="966" y="451" width="5" height="27" fill="#000"/>
<rect x="967" y="452" width="3" height="25" fill="#ff0000"/>
<rect x="976" y="430" width="1" height="68" fill="#000"/>
<rect x="974" y="451" width="5" height="40" fill="#000"/>
<rect x="975" y="452" width="3" height="38" fill="#00ff00"/>
<rect x="984" y="478" width="1" height="18" fill="#000"/>
<rect x="982" y="481" width="5" height="10" fill="#000"/>
<rect x="983" y="482" width="3" height="8" fill="#ff0000"/>
<rect x="992" y="477" width="1" height="11" fill="#000"/>
<rect x="990" y="480" width="5" height="1" fill="#000"/>
<rect x="1000" y="480" width="1" height="12" fill="#000"/>
<rect x="998" y="481" width="5" height="4" fill="#000"/>
<rect x="999" y="482" width="3" height="2" fill="#00ff00"/>
<rect x="1008" y="476" width="1" height="25" fill="#000"/>
<rect x="1006" y="484" width="5" height="9" fill="#000"/>
<rect x="1007" y="485" width="3" height="7" fill="#00ff00"/>
<rect x="1016" y="476" width="1" height="31" fill="#000"/>
<rect x="1014" y="481" width="5" height="12" fill="#000"/>
<rect x="1015" y="482" width="3" height="10" fill="#ff0000"/>
<rect x="1024" y="460" width="1" height="27" fill="#000"/>
<rect x="1022" y="480" width="5" height="1" fill="#000"/>
<rect x="1032" y="468" width="1" height="19" fill="#000"/>
<rect x="1030" y="472" width="5" height="8" fill="#000"/>
<rect x="1031" y="473" width="3" height="6" fill="#ff0000"/>
<rect x="1040" y="466" width="1" height="13" fill="#000"/>
<rect x="1038" y="472" width="5" height="5" fill="#000"/>
<rect x="1039" y="473" width="3" height="3" fill="#00ff00"/>
<rect x="1048" y="474" width="1" height="19" fill="#000"/>
<rect x="1046" y="475" width="5" height="5" fill="#000"/>
<rect x="1047" y="476" width="3" height="3" fill="#00ff00"/>
<rect x="1056" y="467" width="1" height="25" fill="#000"/>
<rect x="1054" y="481" width="5" height="1" fill="#000"/>
<rect x="1064" y="477" width="1" height="64" fill="#000"/>
<rect x="1062" y="481" width="5" height="48" fill="#000"/>
<rect x="1063" y="482" width="3" height="46" fill="#00ff00"/>
<rect x="1072" y="492" width="1" height="41" fill="#000"/>
<rect x="1070" y="500" width="5" height="29" fill="#000"/>
<rect x="1071" y="501" width="3" height="27" fill="#ff0000"/>
<rect x="1080" y="488" width="1" height="18" fill="#000"/>
<rect x="1078" y="490" width="5" height="11" fill="#000"/>
<rect x="1079" y="491" width="3" height="9" fill="#ff0000"/>
<rect x="1088" y="490" width="1" height="12" fill="#000"/>
<rect x="1086" y="490" width="5" height="10" fill="#000"/>
<rect x="1087" y="491" width="3" height="8" fill="#00ff00"/>
<rect x="1096" y="488" width="1" height="17" fill="#000"/>
<rect x="1094" y="499" width="5" height="2" fill="#000"/>
<rect x="1104" y="470" width="1" height="41" fill="#000"/>
<rect x="1102" y="490" width="5" height="11" fill="#000"/>
<rect x="1103" y="491" width="3" height="9" fill="#ff0000"/>
<rect x="1112" y="443" width="1" height="58" fill="#000"/>
<rect x="1110" y="471" width="5" height="20" fill="#000"/>
<rect x="1111" y="472" width="3" height="18" fill="#ff0000"/>
<rect x="1120" y="453" width="1" height="43" fill="#000"/>
<rect x="1118" y="472" width="5" height="19" fill="#000"/>
<rect x="1119" y="473" width="3" height="17" fill="#00ff00"/>
<rect x="1128" y="490" width="1" height="16" fill="#000"/>
<rect x="1126" y="490" width="5" height="6" fill="#000"/>
<rect x="1127" y="491" width="3" height="4" fill="#00ff00"/>
<rect x="1136" y="490" width="1" height="13" fill="#000"/>
<rect x="1134" y="491" width="5" height="5" fill="#000"/>
<rect x="1135" y="492" width="3" height="3" fill="#ff0000"/>
<rect x="1144" y="476" width="1" height="18" fill="#000"/>
<rect x="1142" y="480" width="5" height="13" fill="#000"/>
<rect x="1143" y="481" width="3" height="11" fill="#ff0000"/>
<rect x="1152" y="461" width="1" height="34" fill="#000"/>
<rect x="1150" y="463" width="5" height="18" fill="#000"/>
<rect x="1151" y="464" width="3" height="16" fill="#ff0000"/>
<rect x="1160" y="438" width="1" height="38" fill="#000"/>
<rect x="1158" y="443" width="5" height="21" fill="#000"/>
<rect x="1159" y="444" width="3" height="19" fill="#ff0000"/>
<rect x="1168" y="411" width="1" height="39" fill="#000"/>
<rect x="1166" y="428" width="5" height="16" fill="#000"/>
<rect x="1167" y="429" width="3" height="14" fill="#ff0000"/>
<rect x="1176" y="420" width="1" height="35" fill="#000"/>
<rect x="1174" y="428" width="5" height="22" fill="#000"/>
<rect x="1175" y="429" width="3" height="20" fill="#00ff00"/>
<rect x="1184" y="457" width="1" height="6" fill="#000"/>
<rect x="1182" y="458" width="5" height="3" fill="#000"/>
<rect x="1183" y="459" width="3" height="1" fill="#00ff00"/>
<rect x="1192" y="453" width="1" height="13" fill="#000"/>
<rect x="1190" y="455" width="5" height="6" fill="#000"/>
<rect x="1191" y="456" width="3" height="4" fill="#ff0000"/>
<rect x="1200" y="452" width="1" height="32" fill="#000"/>
<rect x="1198" y="454" width="5" height="2" fill="#000"/>
<rect x="1208" y="443" width="1" height="16" fill="#000"/>
<rect x="1206" y="445" width="5" height="10" fill="#000"/>
<rect x="1207" y="446" width="3" height="8" fill="#ff0000"/>
<rect x="1216" y="433" width="1" height="18" fill="#000"/>
<rect x="1214" y="442" width="5" height="4" fill="#000"/>
<rect x="1215" y="443" width="3" height="2" fill="#ff0000"/>
<rect x="1224" y="434" width="1" height="12" fill="#000"/>
<rect x="1222" y="438" width="5" height="5" fill="#000"/>
<rect x="1223" y="439" width="3" height="3" fill="#ff0000"/>
<rect x="1232" y="435" width="1" height="11" fill="#000"/>
<rect x="1230" y="437" width="5" height="3" fill="#000"/>
<rect x="1231" y="438" width="3" height="1" fill="#00ff00"/>
<rect x="1240" y="438" width="1" height="8" fill="#000"/>
<rect x="1238" y="440" width="5" height="4" fill="#000"/>
<rect x="1239" y="441" width="3" height="2" fill="#00ff00"/>
<rect x="1248" y="425" width="1" height="30" fill="#000"/>
<rect x="1246" y="439" width="5" height="5" fill="#000"/>
<rect x="1247" y="440" width="3" height="3" fill="#ff0000"/>
<rect x="1256" y="395" width="1" height="49" fill="#000"/>
<rect x="1254" y="403" width="5" height="36" fill="#000"/>
<rect x="1255" y="404" width="3" height="34" fill="#ff0000"/>
<rect x="1264" y="356" width="1" height="52" fill="#000"/>
<rect x="1262" y="370" width="5" height="35" fill="#000"/>
<rect x="1263" y="371" width="3" height="33" fill="#ff0000"/>
<rect x="1272" y="358" width="1" height="20" fill="#000"/>
<rect x="1270" y="370" width="5" height="7" fill="#000"/>
<rect x="1271" y="371" width="3" height="5" fill="#00ff00"/>
<rect x="1280" y="370" width="1" height="15" fill="#000"/>
<rect x="1278" y="375" width="5" height="10" fill="#000"/>
<rect x="1279" y="376" width="3" height="8" fill="#00ff00"/>
</g>
<path d="M0 414h3v1h-3zM3 415h4v1h-4zM7 416h4v1h-4zM11 417h4v1h-4zM15 418h4v1h-4zM19 419h1v1h-1zM20 420h1v1h-1zM21 421h1v1h-1zM22 422h2v1h-2zM24 423h1v1h-1zM25 424h1v1h-1zM26 425h1v1h-1zM27 426h1v1h-1zM28 427h1v1h-1zM29 428h1v1h-1zM30 429h1v1h-1zM31 430h1v1h-1zM32 431h1v1h-1zM33 432h2v1h-2zM35 433h2v1h-2zM37 434h1v1h-1zM38 435h2v1h-2zM40 436h6v1h-6zM46 437h8v1h-8zM54 438h4v1h-4zM58 439h4v1h-4zM62 440h3v1h-3zM65 441h4v1h-4zM69 442h16v1h-16zM85 441h2v1h-2zM87 440h3v1h-3zM90 439h3v1h-3zM93 438h2v1h-2zM95 437h3v1h-3zM98 436h2v1h-2zM100 435h1v1h-1zM101 434h1v1h-1zM102 433h2v1h-2zM104 432h1v1h-1zM105 431h1v1h-1zM106 430h1v1h-1zM107 429h1v1h-1zM108 428h1v1h-1zM109 427h1v1h-1zM110 426h1v1h-1zM111 425h1v1h-1zM112 424h1v1h-1zM113 423h1v1h-1zM114 422h1v1h-1zM115 421h1v1h-1zM116 420h1v1h-1zM117 419h1v1h-1zM118 417h1v2h-1zM119 416h1v1h-1zM120 415h1v1h-1zM121 414h1v1h-1zM122 413h1v1h-1zM123 412h3v1h-3zM126 411h2v1h-2zM128 410h3v1h-3zM131 409h2v1h-2zM133 408h11v1h-11zM144 409h44v1h-44zM188 408h9v1h-9zM197 407h5v1h-5zM202 406h2v1h-2zM204 405h2v1h-2zM206 404h3v1h-3zM209 403h2v1h-2zM211 402h12v1h-12zM223 401h12v1h-12zM235 400h13v1h-13zM248 398h1v2h-1zM249 396h1v2h-1zM250 394h1v2h-1zM251 392h1v2h-1zM252 390h1v2h-1zM253 388h1v2h-1zM254 386h1v2h-1zM255 384h1v2h-1zM256 382h1v2h-1zM257 381h1v1h-1zM258 379h1v2h-1zM259 377h1v2h-1zM260 376h1v1h-1zM261 374h1v2h-1zM262 372h1v2h-1zM263 371h1v1h-1zM264 369h1v2h-1zM265 367h1v2h-1zM266 366h1v1h-1zM267 364h1v2h-1zM268 362h1v2h-1zM269 361h1v1h-1zM270 359h1v2h-1zM271 357h1v2h-1zM272 355h1v2h-1zM273 354h1v1h-1zM274 352h1v2h-1zM275 350h1v2h-1zM276 348h1v2h-1zM277 346h1v2h-1zM278 344h1v2h-1zM279 342h1v2h-1zM280 340h1v2h-1zM281 338h1v2h-1zM282 336h1v2h-1zM283 333h1v3h-1zM284 331h1v2h-1zM285 329h1v2h-1zM286 327h1v2h-1zM287 325h1v2h-1zM288 323h1v2h-1zM289 321h1v2h-1zM290 319h1v2h-1zM291 317h1v2h-1zM292 315h1v2h-1zM293 313h1v2h-1zM294 312h1v1h-1zM295 310h1v2h-1zM296 308h1v2h-1zM297 306h1v2h-1zM298 304h1v2h-1zM299 303h1v1h-1zM300 302h1v1h-1zM301 301h1v1h-1zM302 300h1v1h-1zM303 299h1v1h-1zM304 297h1v2h-1zM305 296h1v1h-1zM306 295h1v1h-1zM307 294h1v1h-1zM308 293h1v1h-1zM309 292h1v1h-1zM310 291h1v1h-1zM311 290h1v1h-1zM312 289h1v1h-1zM313 288h1v1h-1zM314 287h1v1h-1zM315 285h1v2h-1zM316 284h1v1h-1zM317 283h1v1h-1zM318 282h1v1h-1zM319 281h1v1h-1zM320 280h1v1h-1zM321 279h1v1h-1zM322 278h2v1h-2zM324 277h1v1h-1zM325 276h1v1h-1zM326 275h2v1h-2zM328 274h1v1h-1zM329 273h1v1h-1zM330 272h2v1h-2zM332 271h1v1h-1zM333 270h2v1h-2zM335 269h1v1h-1zM336 268h1v1h-1zM337 267h2v1h-2zM339 266h1v1h-1zM340 265h2v1h-2zM342 264h1v1h-1zM343 263h2v1h-2zM345 262h2v1h-2zM347 261h2v1h-2zM349 260h1v1h-1zM350 259h2v1h-2zM352 258h2v1h-2zM354 257h2v1h-2zM356 256h1v1h-1zM357 255h2v1h-2zM359 254h1v1h-1zM360 253h2v1h-2zM362 252h1v1h-1zM363 251h1v1h-1zM364 250h1v1h-1zM365 249h1v1h-1zM366 248h1v1h-1zM367 247h1v1h-1zM368 246h1v1h-1zM369 245h2v1h-2zM371 244h3v1h-3zM374 243h3v1h-3zM377 242h2v1h-2zM379 241h3v1h-3zM382 240h4v1h-4zM386 241h2v1h-2zM388 242h3v1h-3zM391 243h2v1h-2zM393 244h1v1h-1zM394 245h1v1h-1zM395 246h1v1h-1zM396 247h1v1h-1zM397 248h2v1h-2zM399 249h1v1h-1zM400 250h1v1h-1zM401 251h1v1h-1zM402 252h1v1h-1zM403 253h1v1h-1zM404 254h1v1h-1zM405 255h2v1h-2zM407 256h1v1h-1zM408 257h1v1h-1zM409 258h1v1h-1zM410 257h3v1h-3zM413 256h11v1h-11zM424 257h8v1h-8zM432 256h1v1h-1zM433 255h1v1h-1zM434 253h1v2h-1zM435 252h1v1h-1zM436 251h1v1h-1zM437 249h1v2h-1zM438 248h1v1h-1zM439 246h1v2h-1zM440 244h1v2h-1zM441 242h1v2h-1zM442 239h1v3h-1zM443 237h1v2h-1zM444 234h1v3h-1zM445 232h1v2h-1zM446 229h1v3h-1zM447 226h1v3h-1zM448 224h1v2h-1zM449 222h1v2h-1zM450 219h1v3h-1zM451 217h1v2h-1zM452 215h1v2h-1zM453 213h1v2h-1zM454 211h1v2h-1zM455 209h1v2h-1zM456 208h1v1h-1zM457 206h1v2h-1zM458 205h1v1h-1zM459 203h1v2h-1zM460 202h1v1h-1zM461 200h1v2h-1zM462 199h1v1h-1zM463 198h1v1h-1zM464 196h1v2h-1zM465 195h1v1h-1zM466 193h1v2h-1zM467 192h1v1h-1zM468 191h1v1h-1zM469 189h1v2h-1zM470 188h1v1h-1zM471 187h1v2h-1zM472 186h1v1h-1zM473 185h1v1h-1zM474 184h1v1h-1zM475 183h1v1h-1zM476 182h1v1h-1zM477 180h1v2h-1zM478 178h1v2h-1zM479 175h1v3h-1zM480 173h1v2h-1zM481 171h1v2h-1zM482 169h1v2h-1zM483 167h1v2h-1zM484 165h1v2h-1zM485 163h1v2h-1zM486 160h1v3h-1zM487 158h1v2h-1zM488 156h1v2h-1zM489 154h1v2h-1zM490 152h1v2h-1zM491 149h1v3h-1zM492 146h1v3h-1zM493 143h1v3h-1zM494 141h1v2h-1zM495 138h1v3h-1zM496 135h1v3h-1zM497 132h1v3h-1zM498 129h1v3h-1zM499 127h1v2h-1zM500 124h1v3h-1zM501 122h1v2h-1zM502 119h1v3h-1zM503 116h1v3h-1zM504 114h1v2h-1zM505 111h1v3h-1zM506 109h1v2h-1zM507 107h1v2h-1zM508 105h1v2h-1zM509 104h1v1h-1zM510 103h1v1h-1zM511 101h1v2h-1zM512 100h1v1h-1zM513 98h1v2h-1zM514 97h1v1h-1zM515 95h1v2h-1zM516 94h1v1h-1zM517 93h1v1h-1zM518 92h1v1h-1zM519 91h1v1h-1zM520 90h2v1h-2zM522 89h2v1h-2zM524 88h3v1h-3zM527 87h2v1h-2zM529 86h2v1h-2zM531 85h3v1h-3zM534 83h1v2h-1zM535 81h1v2h-1zM536 79h1v2h-1zM537 77h1v2h-1zM538 75h1v2h-1zM539 73h1v2h-1zM540 71h1v2h-1zM541 69h1v2h-1zM542 67h1v2h-1zM543 66h1v1h-1zM544 65h1v1h-1zM545 63h1v2h-1zM546 62h1v1h-1zM547 60h1v2h-1zM548 59h1v1h-1zM549 57h1v2h-1zM550 56h1v1h-1zM551 55h1v1h-1zM552 54h1v1h-1zM553 53h2v1h-2zM555 52h1v1h-1zM556 51h2v1h-2zM558 50h2v1h-2zM560 49h1v1h-1zM561 48h1v1h-1zM562 47h2v1h-2zM564 46h1v1h-1zM565 45h2v1h-2zM567 44h1v1h-1zM568 43h3v1h-3zM571 42h3v1h-3zM574 41h5v1h-5zM579 42h1v1h-1zM580 43h2v1h-2zM582 44h2v1h-2zM584 45h2v1h-2zM586 46h2v1h-2zM588 47h1v1h-1zM589 48h2v1h-2zM591 49h2v1h-2zM593 50h1v1h-1zM594 51h1v1h-1zM595 52h1v1h-1zM596 53h1v1h-1zM597 54h1v1h-1zM598 55h1v1h-1zM599 56h2v1h-2zM601 57h6v1h-6zM607 58h4v1h-4zM611 59h2v1h-2zM613 60h2v1h-2zM615 61h1v1h-1zM616 60h1v2h-1zM617 58h1v2h-1zM618 57h1v1h-1zM619 55h1v2h-1zM620 53h1v2h-1zM621 52h1v1h-1zM622 50h1v2h-1zM623 48h1v2h-1zM624 46h1v2h-1zM625 44h1v2h-1zM626 42h1v2h-1zM627 40h1v2h-1zM628 38h1v2h-1zM629 36h1v2h-1zM630 34h1v2h-1zM631 32h1v2h-1zM632 29h1v3h-1zM633 27h1v2h-1zM634 23h1v4h-1zM635 19h1v4h-1zM636 16h1v3h-1zM637 12h1v4h-1zM638 8h1v4h-1zM639 5h1v3h-1zM640 2h1v3h-1zM641 -1h1v3h-1zM642 -4h1v3h-1zM643 -8h1v4h-1zM644 -11h1v3h-1zM645 -14h1v3h-1zM646 -17h1v3h-1zM647 -20h1v3h-1zM648 -21h2v1h-2zM650 -22h1v1h-1zM651 -23h2v1h-2zM653 -24h1v1h-1zM654 -25h2v1h-2zM656 -26h2v1h-2zM658 -27h1v1h-1zM659 -28h2v1h-2zM661 -29h1v1h-1zM662 -30h2v1h-2zM664 -31h2v1h-2zM666 -32h1v1h-1zM667 -33h2v1h-2zM669 -34h1v1h-1zM670 -35h2v1h-2zM672 -36h2v1h-2zM674 -37h1v1h-1zM675 -38h2v1h-2zM677 -39h1v1h-1zM678 -40h3v1h-3zM681 -39h1v1h-1zM682 -38h1v2h-1zM683 -36h1v1h-1zM684 -35h1v1h-1zM685 -34h1v1h-1zM686 -33h1v1h-1zM687 -32h1v2h-1zM688 -30h1v1h-1zM689 -29h1v1h-1zM690 -28h1v1h-1zM691 -27h1v1h-1zM692 -26h1v2h-1zM693 -24h1v1h-1zM694 -23h1v1h-1zM695 -22h1v1h-1zM696 -21h1v1h-1zM697 -20h1v2h-1zM698 -18h1v1h-1zM699 -17h1v1h-1zM700 -16h1v1h-1zM701 -15h1v1h-1zM702 -14h1v2h-1zM703 -12h1v1h-1zM704 -11h1v2h-1zM705 -9h1v2h-1zM706 -7h1v2h-1zM707 -5h1v3h-1zM708 -2h1v2h-1zM709 0h1v2h-1zM710 2h1v3h-1zM711 5h1v2h-1zM712 7h1v3h-1zM713 10h1v2h-1zM714 12h1v3h-1zM715 15h1v2h-1zM716 17h1v2h-1zM717 19h1v3h-1zM718 22h1v2h-1zM719 24h1v3h-1zM720 27h1v4h-1zM721 31h1v3h-1zM722 34h1v3h-1zM723 37h1v3h-1zM724 40h1v3h-1zM725 43h1v3h-1zM726 46h1v3h-1zM727 49h1v3h-1zM728 52h1v4h-1zM729 56h1v3h-1zM730 59h1v3h-1zM731 62h1v3h-1zM732 65h1v3h-1zM733 68h1v3h-1zM734 71h1v3h-1zM735 74h1v3h-1zM736 77h1v3h-1zM737 80h1v3h-1zM738 83h1v4h-1zM739 87h1v3h-1zM740 90h1v4h-1zM741 94h1v4h-1zM742 98h1v4h-1zM743 102h1v4h-1zM744 106h1v4h-1zM745 110h1v4h-1zM746 114h1v4h-1zM747 118h1v5h-1zM748 123h1v6h-1zM749 129h1v6h-1zM750 135h1v5h-1zM751 140h1v6h-1zM752 146h1v6h-1zM753 152h1v5h-1zM754 157h1v6h-1zM755 163h1v6h-1zM756 169h1v6h-1zM757 175h1v5h-1zM758 180h1v6h-1zM759 186h1v6h-1zM760 192h1v6h-1zM761 198h1v5h-1zM762 203h1v5h-1zM763 208h1v5h-1zM764 213h1v5h-1zM765 218h1v5h-1zM766 223h1v5h-1zM767 228h1v5h-1zM768 233h1v6h-1zM769 239h1v8h-1zM770 247h1v8h-1zM771 255h1v9h-1zM772 264h1v8h-1zM773 272h1v9h-1zM774 281h1v8h-1zM775 289h1v7h-1zM776 296h1v4h-1zM777 300h1v3h-1zM778 303h1v2h-1zM779 305h1v2h-1zM780 307h1v3h-1zM781 310h1v2h-1zM782 312h1v3h-1zM783 315h1v2h-1zM784 317h1v2h-1zM785 319h1v4h-1zM786 323h1v4h-1zM787 327h1v4h-1zM788 331h1v5h-1zM789 336h1v4h-1zM790 340h1v4h-1zM791 344h1v3h-1zM792 347h2v1h-2zM794 348h17v1h-17zM811 349h3v1h-3zM814 350h3v1h-3zM817 351h3v1h-3zM820 352h25v1h-25zM845 353h2v1h-2zM847 354h2v1h-2zM849 355h1v1h-1zM850 356h2v1h-2zM852 357h2v1h-2zM854 358h1v1h-1zM855 359h2v1h-2zM857 360h1v1h-1zM858 361h2v1h-2zM860 362h2v1h-2zM862 363h1v1h-1zM863 364h4v1h-4zM867 363h9v1h-9zM876 362h9v1h-9zM885 361h12v1h-12zM897 362h3v1h-3zM900 363h3v1h-3zM903 364h3v1h-3zM906 365h3v1h-3zM909 366h3v1h-3zM912 367h2v1h-2zM914 366h4v1h-4zM918 365h3v1h-3zM921 364h4v1h-4zM925 363h6v1h-6zM931 364h3v1h-3zM934 365h3v1h-3zM937 366h2v1h-2zM939 367h3v1h-3zM942 368h3v1h-3zM945 369h2v1h-2zM947 370h2v1h-2zM949 371h2v1h-2zM951 372h2v1h-2zM953 373h2v1h-2zM955 374h1v1h-1zM956 375h2v1h-2zM958 376h2v1h-2zM960 377h2v1h-2zM962 378h1v1h-1zM963 379h1v1h-1zM964 380h1v1h-1zM965 381h1v1h-1zM966 382h1v1h-1zM967 383h1v1h-1zM968 384h1v1h-1zM969 385h1v1h-1zM970 386h2v1h-2zM972 387h1v1h-1zM973 388h1v1h-1zM974 389h1v1h-1zM975 390h1v1h-1zM976 391h1v1h-1zM977 392h1v1h-1zM978 393h1v1h-1zM979 394h1v1h-1zM980 395h1v1h-1zM981 396h1v1h-1zM982 397h1v1h-1zM983 398h1v1h-1zM984 399h5v1h-5zM989 400h6v1h-6zM995 401h5v1h-5zM1000 402h8v1h-8zM1008 403h4v1h-4zM1012 404h2v1h-2zM1014 405h3v1h-3zM1017 406h1v1h-1zM1018 407h1v2h-1zM1019 409h1v2h-1zM1020 411h1v1h-1zM1021 412h1v2h-1zM1022 414h1v2h-1zM1023 416h1v1h-1zM1024 417h1v2h-1zM1025 419h1v2h-1zM1026 421h1v1h-1zM1027 422h1v2h-1zM1028 424h1v2h-1zM1029 426h1v1h-1zM1030 427h1v2h-1zM1031 429h1v1h-1zM1032 430h1v1h-1zM1033 431h2v1h-2zM1035 432h2v1h-2zM1037 433h2v1h-2zM1039 434h2v1h-2zM1041 435h2v1h-2zM1043 436h2v1h-2zM1045 437h2v1h-2zM1047 438h2v1h-2zM1049 439h2v1h-2zM1051 440h1v1h-1zM1052 441h2v1h-2zM1054 442h2v1h-2zM1056 443h7v1h-7zM1063 444h2v1h-2zM1065 445h2v1h-2zM1067 446h1v1h-1zM1068 447h1v1h-1zM1069 448h1v1h-1zM1070 449h1v1h-1zM1071 450h1v1h-1zM1072 451h18v1h-18zM1090 452h4v1h-4zM1094 453h4v1h-4zM1098 454h4v1h-4zM1102 455h12v1h-12zM1114 456h5v1h-5zM1119 457h2v1h-2zM1121 458h1v1h-1zM1122 459h2v1h-2zM1124 460h1v1h-1zM1125 461h2v1h-2zM1127 462h1v1h-1zM1128 463h18v1h-18zM1146 462h2v1h-2zM1148 461h3v1h-3zM1151 460h2v1h-2zM1153 459h1v1h-1zM1154 458h1v1h-1zM1155 457h1v1h-1zM1156 455h1v2h-1zM1157 454h1v1h-1zM1158 453h1v1h-1zM1159 452h1v1h-1zM1160 451h1v1h-1zM1161 449h1v2h-1zM1162 448h1v1h-1zM1163 447h1v1h-1zM1164 445h1v2h-1zM1165 444h1v1h-1zM1166 443h1v1h-1zM1167 441h1v2h-1zM1168 440h3v1h-3zM1171 439h2v1h-2zM1173 438h2v1h-2zM1175 437h2v1h-2zM1177 436h3v1h-3zM1180 435h5v1h-5zM1185 434h6v1h-6zM1191 433h3v1h-3zM1194 432h2v1h-2zM1196 431h3v1h-3zM1199 430h2v1h-2zM1201 429h2v1h-2zM1203 428h2v1h-2zM1205 427h3v1h-3zM1208 426h2v1h-2zM1210 425h2v1h-2zM1212 424h2v1h-2zM1214 423h5v1h-5zM1219 422h6v1h-6zM1225 421h4v1h-4zM1229 420h3v1h-3zM1232 419h4v1h-4zM1236 418h3v1h-3zM1239 417h3v1h-3zM1242 416h3v1h-3zM1245 415h2v1h-2zM1247 414h3v1h-3zM1250 413h1v1h-1zM1251 412h1v1h-1zM1252 411h1v1h-1zM1253 410h1v1h-1zM1254 409h1v1h-1zM1255 408h1v1h-1zM1256 406h1v2h-1zM1257 404h1v2h-1zM1258 402h1v2h-1zM1259 400h1v2h-1zM1260 398h1v2h-1zM1261 396h1v2h-1zM1262 395h1v1h-1zM1263 393h1v2h-1zM1264 391h1v2h-1zM1265 390h1v1h-1zM1266 388h1v2h-1zM1267 386h1v2h-1zM1268 385h1v1h-1zM1269 384h1v1h-1zM1270 383h1v1h-1zM1271 382h1v1h-1zM1272 381h1v1h-1zM1273 380h1v1h-1zM1274 379h1v1h-1zM1275 378h1v1h-1zM1276 377h1v1h-1zM1277 376h1v1h-1zM1278 375h2v1h-2zM1280 374h1v1h-1z" fill="#3cb371" shape-rendering="crispEdges" clip-path="url(#cm)"/>
<path d="M0 449h3v1h-3zM3 450h10v1h-10zM13 451h3v1h-3zM16 452h4v1h-4zM20 453h3v1h-3zM23 454h4v1h-4zM27 455h3v1h-3zM30 456h4v1h-4zM34 457h3v1h-3zM37 458h6v1h-6zM43 459h16v1h-16zM59 460h11v1h-11zM70 461h12v1h-12zM82 460h6v1h-6zM88 459h5v1h-5zM93 458h4v1h-4zM97 457h5v1h-5zM102 456h4v1h-4zM106 455h5v1h-5zM111 454h6v1h-6zM117 453h5v1h-5zM122 452h3v1h-3zM125 451h3v1h-3zM128 450h3v1h-3zM131 449h3v1h-3zM134 448h6v1h-6zM140 447h8v1h-8zM148 446h41v1h-41zM189 447h16v1h-16zM205 446h4v1h-4zM209 445h4v1h-4zM213 444h4v1h-4zM217 443h3v1h-3zM220 442h4v1h-4zM224 441h7v1h-7zM231 440h10v1h-10zM241 439h10v1h-10zM251 438h2v1h-2zM253 437h2v1h-2zM255 436h2v1h-2zM257 435h2v1h-2zM259 434h2v1h-2zM261 433h2v1h-2zM263 432h2v1h-2zM265 431h3v1h-3zM268 430h2v1h-2zM270 429h2v1h-2zM272 428h2v1h-2zM274 427h3v1h-3zM277 426h1v1h-1zM278 425h2v1h-2zM280 424h2v1h-2zM282 423h2v1h-2zM284 422h1v1h-1zM285 421h2v1h-2zM287 420h2v1h-2zM289 419h2v1h-2zM291 418h1v1h-1zM292 417h1v1h-1zM293 416h2v1h-2zM295 415h1v1h-1zM296 414h2v1h-2zM298 413h1v1h-1zM299 412h1v1h-1zM300 411h2v1h-2zM302 410h1v1h-1zM303 409h2v1h-2zM305 408h1v1h-1zM306 407h1v1h-1zM307 406h2v1h-2zM309 405h1v1h-1zM310 404h1v1h-1zM311 403h2v1h-2zM313 402h1v1h-1zM314 401h2v1h-2zM316 400h1v1h-1zM317 399h1v1h-1zM318 398h1v1h-1zM319 397h1v1h-1zM320 396h1v1h-1zM321 395h1v1h-1zM322 394h1v1h-1zM323 393h2v1h-2zM325 392h1v1h-1zM326 391h1v1h-1zM327 390h1v1h-1zM328 389h1v1h-1zM329 388h1v1h-1zM330 387h1v1h-1zM331 386h1v1h-1zM332 385h1v1h-1zM333 384h1v1h-1zM334 383h1v1h-1zM335 382h1v1h-1zM336 381h1v1h-1zM337 380h1v1h-1zM338 379h1v1h-1zM339 378h1v1h-1zM340 377h1v1h-1zM341 376h1v1h-1zM342 375h1v1h-1zM343 374h1v1h-1zM344 373h1v1h-1zM345 372h1v1h-1zM346 371h1v1h-1zM347 370h1v1h-1zM348 369h1v1h-1zM349 368h1v1h-1zM350 367h1v1h-1zM351 366h1v1h-1zM352 365h1v1h-1zM353 364h1v1h-1zM354 363h1v1h-1zM355 362h1v1h-1zM356 361h2v1h-2zM358 360h1v1h-1zM359 359h1v1h-1zM360 358h1v1h-1zM361 357h1v1h-1zM362 356h1v1h-1zM363 355h1v1h-1zM364 354h1v1h-1zM365 353h2v1h-2zM367 352h1v1h-1zM368 351h1v1h-1zM369 350h1v1h-1zM370 349h1v1h-1zM371 348h1v1h-1zM372 347h1v1h-1zM373 346h1v1h-1zM374 345h1v1h-1zM375 344h1v1h-1zM376 343h1v1h-1zM377 342h1v1h-1zM378 341h1v1h-1zM379 340h1v1h-1zM380 339h1v1h-1zM381 338h1v1h-1zM382 337h1v1h-1zM383 336h1v1h-1zM384 335h1v1h-1zM385 334h1v1h-1zM386 333h1v1h-1zM387 332h1v1h-1zM388 331h1v1h-1zM389 330h1v1h-1zM390 329h1v1h-1zM391 328h1v1h-1zM392 327h1v1h-1zM393 326h1v1h-1zM394 325h1v1h-1zM395 324h1v1h-1zM396 323h2v1h-2zM398 322h1v1h-1zM399 321h1v1h-1zM400 320h1v1h-1zM401 319h1v1h-1zM402 318h1v1h-1zM403 317h1v1h-1zM404 316h1v1h-1zM405 315h1v1h-1zM406 314h1v1h-1zM407 313h2v1h-2zM409 312h1v1h-1zM410 311h1v1h-1zM411 310h2v1h-2zM413 309h1v1h-1zM414 308h2v1h-2zM416 307h3v1h-3zM419 306h3v1h-3zM422 305h3v1h-3zM425 304h3v1h-3zM428 303h2v1h-2zM430 302h3v1h-3zM433 301h1v1h-1zM434 300h1v1h-1zM435 299h1v1h-1zM436 298h2v1h-2zM438 297h1v1h-1zM439 296h1v1h-1zM440 295h2v1h-2zM442 294h1v1h-1zM443 293h1v1h-1zM444 292h2v1h-2zM446 291h1v1h-1zM447 290h2v1h-2zM449 289h2v1h-2zM451 288h1v1h-1zM452 287h2v1h-2zM454 286h1v1h-1zM455 285h2v1h-2zM457 284h2v1h-2zM459 283h1v1h-1zM460 282h1v1h-1zM461 281h1v1h-1zM462 280h1v1h-1zM463 279h1v1h-1zM464 278h1v1h-1zM465 277h1v1h-1zM466 276h1v1h-1zM467 275h1v1h-1zM468 274h1v1h-1zM469 272h1v2h-1zM470 271h1v1h-1zM471 270h1v1h-1zM472 269h1v1h-1zM473 268h1v1h-1zM474 267h1v1h-1zM475 266h1v1h-1zM476 265h1v1h-1zM477 264h1v1h-1zM478 263h1v1h-1zM479 262h1v1h-1zM480 260h1v2h-1zM481 259h1v1h-1zM482 258h1v1h-1zM483 257h1v1h-1zM484 256h1v1h-1zM485 255h1v1h-1zM486 254h1v1h-1zM487 253h1v1h-1zM488 252h1v1h-1zM489 251h1v1h-1zM490 249h1v2h-1zM491 248h1v1h-1zM492 247h1v1h-1zM493 246h1v1h-1zM494 245h1v1h-1zM495 244h1v1h-1zM496 243h1v1h-1zM497 242h1v1h-1zM498 241h1v1h-1zM499 240h1v1h-1zM500 238h1v2h-1zM501 237h1v1h-1zM502 236h1v1h-1zM503 235h1v1h-1zM504 234h1v1h-1zM505 233h1v1h-1zM506 232h1v1h-1zM507 231h1v1h-1zM508 229h1v2h-1zM509 228h1v1h-1zM510 227h2v1h-2zM512 226h1v1h-1zM513 225h1v1h-1zM514 224h1v1h-1zM515 223h1v1h-1zM516 222h1v1h-1zM517 221h2v1h-2zM519 220h1v1h-1zM520 219h1v1h-1zM521 218h1v1h-1zM522 217h1v1h-1zM523 216h2v1h-2zM525 215h1v1h-1zM526 214h2v1h-2zM528 213h1v1h-1zM529 212h2v1h-2zM531 211h1v1h-1zM532 210h2v1h-2zM534 209h2v1h-2zM536 208h1v1h-1zM537 206h1v2h-1zM538 205h1v1h-1zM539 203h1v2h-1zM540 202h1v1h-1zM541 201h1v1h-1zM542 199h1v2h-1zM543 198h1v1h-1zM544 196h1v2h-1zM545 195h1v1h-1zM546 194h1v1h-1zM547 192h1v2h-1zM548 191h1v1h-1zM549 189h1v2h-1zM550 188h1v1h-1zM551 187h1v1h-1zM552 185h1v2h-1zM553 184h1v1h-1zM554 183h1v1h-1zM555 182h1v1h-1zM556 181h1v1h-1zM557 180h1v1h-1zM558 179h1v1h-1zM559 178h1v1h-1zM560 176h1v2h-1zM561 175h1v1h-1zM562 174h1v1h-1zM563 173h1v1h-1zM564 172h1v1h-1zM565 171h1v1h-1zM566 170h1v1h-1zM567 169h1v1h-1zM568 168h1v1h-1zM569 167h1v1h-1zM570 166h1v1h-1zM571 164h1v2h-1zM572 163h1v1h-1zM573 162h1v1h-1zM574 161h1v1h-1zM575 160h1v1h-1zM576 159h1v1h-1zM577 158h1v1h-1zM578 157h1v1h-1zM579 156h1v1h-1zM580 154h1v2h-1zM581 153h1v1h-1zM582 152h1v1h-1zM583 151h1v1h-1zM584 150h1v1h-1zM585 149h1v1h-1zM586 148h1v1h-1zM587 147h1v1h-1zM588 145h1v2h-1zM589 144h1v1h-1zM590 143h1v1h-1zM591 142h1v1h-1zM592 141h2v1h-2zM594 140h1v1h-1zM595 139h1v1h-1zM596 138h2v1h-2zM598 137h1v1h-1zM599 136h3v1h-3zM602 135h5v1h-5zM607 134h4v1h-4zM611 133h2v1h-2zM613 132h2v1h-2zM615 131h1v1h-1zM616 130h1v1h-1zM617 131h1v1h-1zM618 132h2v1h-2zM620 133h2v1h-2zM622 134h2v1h-2zM624 135h2v1h-2zM626 136h2v1h-2zM628 137h2v1h-2zM630 138h2v1h-2zM632 139h1v2h-1zM633 141h1v1h-1zM634 142h1v2h-1zM635 144h1v2h-1zM636 146h1v1h-1zM637 147h1v2h-1zM638 149h1v1h-1zM639 150h1v2h-1zM640 152h1v1h-1zM641 153h1v2h-1zM642 155h1v2h-1zM643 157h1v1h-1zM644 158h1v2h-1zM645 160h1v1h-1zM646 161h1v2h-1zM647 163h1v1h-1zM648 164h1v2h-1zM649 166h1v2h-1zM650 168h1v1h-1zM651 169h1v2h-1zM652 171h1v1h-1zM653 172h1v2h-1zM654 174h1v1h-1zM655 175h1v2h-1zM656 177h1v2h-1zM657 179h1v1h-1zM658 180h1v2h-1zM659 182h1v1h-1zM660 183h1v2h-1zM661 185h1v1h-1zM662 186h1v2h-1zM663 188h1v2h-1zM664 190h1v1h-1zM665 191h1v2h-1zM666 193h1v1h-1zM667 194h1v2h-1zM668 196h1v2h-1zM669 198h1v1h-1zM670 199h1v2h-1zM671 201h1v1h-1zM672 202h1v2h-1zM673 204h1v2h-1zM674 206h1v1h-1zM675 207h1v2h-1zM676 209h1v1h-1zM677 210h1v2h-1zM678 212h1v2h-1zM679 214h1v1h-1zM680 215h1v1h-1zM681 216h1v2h-1zM682 218h1v1h-1zM683 219h1v1h-1zM684 220h1v1h-1zM685 221h1v2h-1zM686 223h1v1h-1zM687 224h1v1h-1zM688 225h1v1h-1zM689 226h1v1h-1zM690 227h1v2h-1zM691 229h1v1h-1zM692 230h1v1h-1zM693 231h1v1h-1zM694 232h1v2h-1zM695 234h1v1h-1zM696 235h1v1h-1zM697 236h1v2h-1zM698 238h1v2h-1zM699 240h1v2h-1zM700 242h1v2h-1zM701 244h1v2h-1zM702 246h1v2h-1zM703 248h1v1h-1zM704 249h1v2h-1zM705 251h1v2h-1zM706 253h1v2h-1zM707 255h1v2h-1zM708 257h1v2h-1zM709 259h1v2h-1zM710 261h1v1h-1zM711 262h1v2h-1zM712 264h1v2h-1zM713 266h1v2h-1zM714 268h1v2h-1zM715 270h1v2h-1zM716 272h1v2h-1zM717 274h1v1h-1zM718 275h1v2h-1zM719 277h1v2h-1zM720 279h1v2h-1zM721 281h1v2h-1zM722 283h1v2h-1zM723 285h1v2h-1zM724 287h1v1h-1zM725 288h1v2h-1zM726 290h1v2h-1zM727 292h1v2h-1zM728 294h1v2h-1zM729 296h1v2h-1zM730 298h1v2h-1zM731 300h1v1h-1zM732 301h1v2h-1zM733 303h1v2h-1zM734 305h1v2h-1zM735 307h1v2h-1zM736 309h1v2h-1zM737 311h1v2h-1zM738 313h1v1h-1zM739 314h1v2h-1zM740 316h1v2h-1zM741 318h1v2h-1zM742 320h1v1h-1zM743 321h1v2h-1zM744 323h1v2h-1zM745 325h1v1h-1zM746 326h1v2h-1zM747 328h1v2h-1zM748 330h1v1h-1zM749 331h1v2h-1zM750 333h1v2h-1zM751 335h1v1h-1zM752 336h1v2h-1zM753 338h1v2h-1zM754 340h1v2h-1zM755 342h1v1h-1zM756 343h1v2h-1zM757 345h1v2h-1zM758 347h1v1h-1zM759 348h1v2h-1zM760 350h1v1h-1zM761 351h1v2h-1zM762 353h1v2h-1zM763 355h1v1h-1zM764 356h1v2h-1zM765 358h1v1h-1zM766 359h1v2h-1zM767 361h1v1h-1zM768 362h1v2h-1zM769 364h1v2h-1zM770 366h1v1h-1zM771 367h1v2h-1zM772 369h1v1h-1zM773 370h1v2h-1zM774 372h1v1h-1zM775 373h1v2h-1zM776 375h1v1h-1zM777 376h2v1h-2zM779 377h1v1h-1zM780 378h1v1h-1zM781 379h2v1h-2zM783 380h1v1h-1zM784 381h2v1h-2zM786 382h1v1h-1zM787 383h2v1h-2zM789 384h1v1h-1zM790 385h2v1h-2zM792 386h18v1h-18zM810 387h12v1h-12zM822 388h8v1h-8zM830 389h5v1h-5zM835 390h5v1h-5zM840 391h3v1h-3zM843 392h2v1h-2zM845 393h2v1h-2zM847 394h1v1h-1zM848 395h2v1h-2zM850 396h2v1h-2zM852 397h2v1h-2zM854 398h1v1h-1zM855 399h8v1h-8zM863 400h8v1h-8zM871 401h8v1h-8zM879 402h2v1h-2zM881 403h3v1h-3zM884 404h3v1h-3zM887 405h3v1h-3zM890 406h3v1h-3zM893 407h3v1h-3zM896 408h3v1h-3zM899 409h3v1h-3zM902 410h3v1h-3zM905 411h3v1h-3zM908 412h2v1h-2zM910 413h3v1h-3zM913 414h2v1h-2zM915 415h2v1h-2zM917 416h2v1h-2zM919 417h3v1h-3zM922 418h2v1h-2zM924 419h3v1h-3zM927 420h2v1h-2zM929 421h3v1h-3zM932 422h2v1h-2zM934 423h3v1h-3zM937 424h2v1h-2zM939 425h3v1h-3zM942 426h2v1h-2zM944 427h2v1h-2zM946 428h2v1h-2zM948 429h1v1h-1zM949 430h2v1h-2zM951 431h2v1h-2zM953 432h2v1h-2zM955 433h1v1h-1zM956 434h2v1h-2zM958 435h2v1h-2zM960 436h2v1h-2zM962 437h2v1h-2zM964 438h1v1h-1zM965 439h2v1h-2zM967 440h2v1h-2zM969 441h2v1h-2zM971 442h2v1h-2zM973 443h2v1h-2zM975 444h1v1h-1zM976 445h2v1h-2zM978 446h2v1h-2zM980 447h2v1h-2zM982 448h3v1h-3zM985 449h2v1h-2zM987 450h3v1h-3zM990 451h3v1h-3zM993 452h4v1h-4zM997 453h3v1h-3zM1000 454h4v1h-4zM1004 455h3v1h-3zM1007 456h3v1h-3zM1010 457h4v1h-4zM1014 458h2v1h-2zM1016 459h2v1h-2zM1018 460h2v1h-2zM1020 461h2v1h-2zM1022 462h2v1h-2zM1024 463h2v1h-2zM1026 464h2v1h-2zM1028 465h2v1h-2zM1030 466h3v1h-3zM1033 467h4v1h-4zM1037 468h4v1h-4zM1041 469h5v1h-5zM1046 470h4v1h-4zM1050 471h4v1h-4zM1054 472h2v1h-2zM1056 473h2v1h-2zM1058 474h3v1h-3zM1061 475h2v1h-2zM1063 476h2v1h-2zM1065 477h2v1h-2zM1067 478h4v1h-4zM1071 479h4v1h-4zM1075 480h4v1h-4zM1079 481h5v1h-5zM1084 482h6v1h-6zM1090 483h5v1h-5zM1095 484h8v1h-8zM1103 485h8v1h-8zM1111 486h7v1h-7zM1118 487h8v1h-8zM1126 488h24v1h-24zM1150 487h3v1h-3zM1153 486h4v1h-4zM1157 485h3v1h-3zM1160 484h4v1h-4zM1164 483h3v1h-3zM1167 482h3v1h-3zM1170 481h5v1h-5zM1175 480h8v1h-8zM1183 479h7v1h-7zM1190 478h8v1h-8zM1198 477h5v1h-5zM1203 476h5v1h-5zM1208 475h5v1h-5zM1213 474h3v1h-3zM1216 473h2v1h-2zM1218 472h2v1h-2zM1220 471h2v1h-2zM1222 470h2v1h-2zM1224 469h2v1h-2zM1226 468h3v1h-3zM1229 467h3v1h-3zM1232 466h3v1h-3zM1235 465h2v1h-2zM1237 464h3v1h-3zM1240 463h3v1h-3zM1243 462h3v1h-3zM1246 461h2v1h-2zM1248 460h1v1h-1zM1249 459h2v1h-2zM1251 458h2v1h-2zM1253 457h2v1h-2zM1255 456h1v1h-1zM1256 455h2v1h-2zM1258 454h1v1h-1zM1259 453h2v1h-2zM1261 452h1v1h-1zM1262 451h1v1h-1zM1263 450h2v1h-2zM1265 449h1v1h-1zM1266 448h1v1h-1zM1267 447h1v1h-1zM1268 446h2v1h-2zM1270 445h2v1h-2zM1272 444h2v1h-2zM1274 443h2v1h-2zM1276 442h2v1h-2zM1278 441h2v1h-2zM1280 440h1v1h-1z" fill="#3cb371" shape-rendering="crispEdges" clip-path="url(#cm)"/>
<path d="M0 483h4v1h-4zM4 484h6v1h-6zM10 485h12v1h-12zM22 486h4v1h-4zM26 485h3v1h-3zM29 484h3v1h-3zM32 483h4v1h-4zM36 482h3v1h-3zM39 481h47v1h-47zM86 480h1v1h-1zM87 481h6v1h-6zM93 482h7v1h-7zM100 483h3v1h-3zM103 484h3v1h-3zM106 485h2v1h-2zM108 486h3v1h-3zM111 487h2v1h-2zM113 488h2v1h-2zM115 489h3v1h-3zM118 490h9v1h-9zM127 489h12v1h-12zM139 488h2v1h-2zM141 487h2v1h-2zM143 486h3v1h-3zM146 485h2v1h-2zM148 484h2v1h-2zM150 483h4v1h-4zM154 482h8v1h-8zM162 483h4v1h-4zM166 484h7v1h-7zM173 483h11v1h-11zM184 484h3v1h-3zM187 485h2v1h-2zM189 486h3v1h-3zM192 487h2v1h-2zM194 486h15v1h-15zM209 487h7v1h-7zM216 486h2v1h-2zM218 485h2v1h-2zM220 484h2v1h-2zM222 483h4v1h-4zM226 482h4v1h-4zM230 481h4v1h-4zM234 480h6v1h-6zM240 481h10v1h-10zM250 482h1v1h-1zM251 483h1v1h-1zM252 484h1v1h-1zM253 485h1v1h-1zM254 486h1v1h-1zM255 487h1v1h-1zM256 488h1v1h-1zM257 489h1v1h-1zM258 490h1v1h-1zM259 491h1v1h-1zM260 492h1v1h-1zM261 493h1v1h-1zM262 494h1v1h-1zM263 495h2v1h-2zM265 496h1v1h-1zM266 497h1v1h-1zM267 498h2v1h-2zM269 499h1v1h-1zM270 500h2v1h-2zM272 501h1v1h-1zM273 502h2v1h-2zM275 503h1v1h-1zM276 504h1v1h-1zM277 505h1v1h-1zM278 506h1v1h-1zM279 507h2v1h-2zM281 508h1v1h-1zM282 509h1v1h-1zM283 510h1v1h-1zM284 511h1v1h-1zM285 512h1v1h-1zM286 513h1v1h-1zM287 514h1v1h-1zM288 515h1v1h-1zM289 516h1v1h-1zM290 517h1v1h-1zM291 518h1v1h-1zM292 519h1v1h-1zM293 520h2v1h-2zM295 521h1v1h-1zM296 522h1v1h-1zM297 523h1v1h-1zM298 522h3v1h-3zM301 521h3v1h-3zM304 520h4v1h-4zM308 519h2v1h-2zM310 518h2v1h-2zM312 517h3v1h-3zM315 516h2v1h-2zM317 515h2v1h-2zM319 514h2v1h-2zM321 513h1v1h-1zM322 512h1v1h-1zM323 511h1v1h-1zM324 509h1v2h-1zM325 508h1v1h-1zM326 507h1v1h-1zM327 506h1v1h-1zM328 505h1v1h-1zM329 503h1v2h-1zM330 502h1v1h-1zM331 501h1v1h-1zM332 500h1v1h-1zM333 499h1v1h-1zM334 497h1v2h-1zM335 496h1v1h-1zM336 495h1v1h-1zM337 493h1v2h-1zM338 492h1v1h-1zM339 491h1v1h-1zM340 489h1v2h-1zM341 488h1v1h-1zM342 487h1v1h-1zM343 485h1v2h-1zM344 483h1v2h-1zM345 481h1v2h-1zM346 479h1v2h-1zM347 477h1v2h-1zM348 475h1v2h-1zM349 473h1v2h-1zM350 470h1v3h-1zM351 469h1v1h-1zM352 467h1v2h-1zM353 466h1v1h-1zM354 465h1v1h-1zM355 463h1v2h-1zM356 462h1v1h-1zM357 460h1v2h-1zM358 459h1v1h-1zM359 458h2v1h-2zM361 457h2v1h-2zM363 456h2v1h-2zM365 455h2v1h-2zM367 454h2v1h-2zM369 452h1v2h-1zM370 451h1v1h-1zM371 450h1v1h-1zM372 448h1v2h-1zM373 447h1v1h-1zM374 446h1v1h-1zM375 444h1v2h-1zM376 443h1v1h-1zM377 442h1v1h-1zM378 440h1v2h-1zM379 439h1v1h-1zM380 437h1v2h-1zM381 435h1v2h-1zM382 433h1v2h-1zM383 431h1v2h-1zM384 428h1v3h-1zM385 426h1v2h-1zM386 424h1v2h-1zM387 422h1v2h-1zM388 420h1v2h-1zM389 417h1v3h-1zM390 415h1v2h-1zM391 413h1v2h-1zM392 411h1v2h-1zM393 408h1v3h-1zM394 406h1v2h-1zM395 404h1v2h-1zM396 402h1v2h-1zM397 399h1v3h-1zM398 397h1v2h-1zM399 394h1v3h-1zM400 391h1v3h-1zM401 388h1v3h-1zM402 386h1v2h-1zM403 383h1v3h-1zM404 379h1v4h-1zM405 376h1v3h-1zM406 373h1v3h-1zM407 370h1v3h-1zM408 368h1v2h-1zM409 367h1v1h-1zM410 366h1v1h-1zM411 365h1v1h-1zM412 364h1v1h-1zM413 363h1v1h-1zM414 362h1v1h-1zM415 361h1v1h-1zM416 360h1v1h-1zM417 358h1v2h-1zM418 357h2v1h-2zM420 356h1v1h-1zM421 355h1v1h-1zM422 354h1v1h-1zM423 353h2v1h-2zM425 352h1v1h-1zM426 351h1v1h-1zM427 350h2v1h-2zM429 349h1v1h-1zM430 348h1v1h-1zM431 347h2v1h-2zM433 346h3v1h-3zM436 345h2v1h-2zM438 344h3v1h-3zM441 345h1v2h-1zM442 347h1v1h-1zM443 348h1v1h-1zM444 349h1v2h-1zM445 351h1v1h-1zM446 352h1v1h-1zM447 353h1v1h-1zM448 354h1v1h-1zM449 355h2v1h-2zM451 356h1v1h-1zM452 357h1v1h-1zM453 358h1v1h-1zM454 359h2v1h-2zM456 360h4v1h-4zM460 361h4v1h-4zM464 360h2v1h-2zM466 359h3v1h-3zM469 358h2v1h-2zM471 357h2v1h-2zM473 356h3v1h-3zM476 355h5v1h-5zM481 356h11v1h-11zM492 357h5v1h-5zM497 358h5v1h-5zM502 359h3v1h-3zM505 358h2v1h-2zM507 357h1v1h-1zM508 356h2v1h-2zM510 355h1v1h-1zM511 354h2v1h-2zM513 353h1v1h-1zM514 352h2v1h-2zM516 351h1v1h-1zM517 350h2v1h-2zM519 349h1v1h-1zM520 348h1v2h-1zM521 347h1v1h-1zM522 346h1v1h-1zM523 345h1v1h-1zM524 344h1v1h-1zM525 343h1v1h-1zM526 342h1v1h-1zM527 341h1v1h-1zM528 340h1v1h-1zM529 338h1v2h-1zM530 337h1v1h-1zM531 336h1v1h-1zM532 335h1v1h-1zM533 334h1v1h-1zM534 333h1v1h-1zM535 332h1v1h-1zM536 331h2v1h-2zM538 330h2v1h-2zM540 329h3v1h-3zM543 328h2v1h-2zM545 327h1v1h-1zM546 326h1v1h-1zM547 324h1v2h-1zM548 323h1v1h-1zM549 321h1v2h-1zM550 320h1v1h-1zM551 319h1v1h-1zM552 317h1v2h-1zM553 316h1v1h-1zM554 314h1v2h-1zM555 313h1v1h-1zM556 311h1v2h-1zM557 310h1v1h-1zM558 308h1v2h-1zM559 306h1v2h-1zM560 305h1v1h-1zM561 303h1v2h-1zM562 302h1v1h-1zM563 300h1v2h-1zM564 299h1v1h-1zM565 297h1v2h-1zM566 295h1v2h-1zM567 293h1v2h-1zM568 292h1v1h-1zM569 290h1v2h-1zM570 288h1v2h-1zM571 286h1v2h-1zM572 284h1v2h-1zM573 282h1v2h-1zM574 281h1v1h-1zM575 279h1v2h-1zM576 277h1v2h-1zM577 275h1v2h-1zM578 273h1v2h-1zM579 270h1v3h-1zM580 266h1v4h-1zM581 263h1v3h-1zM582 260h1v3h-1zM583 257h1v3h-1zM584 253h1v4h-1zM585 250h1v3h-1zM586 247h1v3h-1zM587 244h1v3h-1zM588 240h1v4h-1zM589 237h1v3h-1zM590 234h1v3h-1zM591 231h1v3h-1zM592 229h1v2h-1zM593 227h1v2h-1zM594 225h1v2h-1zM595 223h1v2h-1zM596 221h1v2h-1zM597 219h1v2h-1zM598 218h1v1h-1zM599 217h1v1h-1zM600 216h1v1h-1zM601 215h2v1h-2zM603 214h1v1h-1zM604 213h1v1h-1zM605 212h1v1h-1zM606 211h1v1h-1zM607 210h1v1h-1zM608 209h1v1h-1zM609 208h1v1h-1zM610 206h1v2h-1zM611 205h1v1h-1zM612 204h1v1h-1zM613 203h1v1h-1zM614 202h1v1h-1zM615 201h1v1h-1zM616 200h1v2h-1zM617 202h1v4h-1zM618 206h1v3h-1zM619 209h1v3h-1zM620 212h1v4h-1zM621 216h1v3h-1zM622 219h1v3h-1zM623 222h1v4h-1zM624 226h1v3h-1zM625 229h1v4h-1zM626 233h1v3h-1zM627 236h1v4h-1zM628 240h1v3h-1zM629 243h1v4h-1zM630 247h1v3h-1zM631 250h1v4h-1zM632 254h1v4h-1zM633 258h1v3h-1zM634 261h1v4h-1zM635 265h1v5h-1zM636 270h1v8h-1zM637 278h1v8h-1zM638 286h1v8h-1zM639 294h1v8h-1zM640 302h1v7h-1zM641 309h1v7h-1zM642 316h1v6h-1zM643 322h1v6h-1zM644 328h1v5h-1zM645 333h1v6h-1zM646 339h1v6h-1zM647 345h1v5h-1zM648 350h1v4h-1zM649 354h1v3h-1zM650 357h1v4h-1zM651 361h1v4h-1zM652 365h1v3h-1zM653 368h1v4h-1zM654 372h1v3h-1zM655 375h1v4h-1zM656 379h1v4h-1zM657 383h1v4h-1zM658 387h1v4h-1zM659 391h1v4h-1zM660 395h1v3h-1zM661 398h1v4h-1zM662 402h1v4h-1zM663 406h1v4h-1zM664 410h1v4h-1zM665 414h1v4h-1zM666 418h1v4h-1zM667 422h1v4h-1zM668 426h1v4h-1zM669 430h1v4h-1zM670 434h1v4h-1zM671 438h1v3h-1zM672 441h1v4h-1zM673 445h1v4h-1zM674 449h1v4h-1zM675 453h1v3h-1zM676 456h1v4h-1zM677 460h1v4h-1zM678 464h1v4h-1zM679 468h1v3h-1zM680 471h1v3h-1zM681 474h1v2h-1zM682 476h1v2h-1zM683 478h1v2h-1zM684 480h1v2h-1zM685 482h1v2h-1zM686 484h1v2h-1zM687 486h1v2h-1zM688 488h1v1h-1zM689 489h1v2h-1zM690 491h1v1h-1zM691 492h1v2h-1zM692 494h1v2h-1zM693 496h1v1h-1zM694 497h1v2h-1zM695 499h1v1h-1zM696 500h1v1h-1zM697 501h1v2h-1zM698 503h1v1h-1zM699 504h1v1h-1zM700 505h1v1h-1zM701 506h1v2h-1zM702 508h1v1h-1zM703 509h1v1h-1zM704 510h1v2h-1zM705 512h1v1h-1zM706 513h1v1h-1zM707 514h1v1h-1zM708 515h1v2h-1zM709 517h1v1h-1zM710 518h1v1h-1zM711 519h1v2h-1zM712 521h1v1h-1zM713 522h1v1h-1zM714 523h1v1h-1zM715 524h1v2h-1zM716 526h1v1h-1zM717 527h1v1h-1zM718 528h1v1h-1zM719 529h1v1h-1zM720 530h1v1h-1zM721 531h1v1h-1zM722 532h1v1h-1zM723 533h2v1h-2zM725 534h1v1h-1zM726 535h1v1h-1zM727 536h2v1h-2zM729 537h3v1h-3zM732 538h3v1h-3zM735 539h1v1h-1zM736 538h2v1h-2zM738 537h2v1h-2zM740 536h2v1h-2zM742 535h1v1h-1zM743 534h1v2h-1zM744 532h1v2h-1zM745 530h1v2h-1zM746 528h1v2h-1zM747 526h1v2h-1zM748 524h1v2h-1zM749 522h1v2h-1zM750 520h1v2h-1zM751 518h1v2h-1zM752 517h1v1h-1zM753 516h1v1h-1zM754 515h1v1h-1zM755 513h1v2h-1zM756 512h1v1h-1zM757 511h1v1h-1zM758 510h1v1h-1zM759 508h1v2h-1zM760 507h1v1h-1zM761 505h1v2h-1zM762 503h1v2h-1zM763 501h1v2h-1zM764 499h1v2h-1zM765 497h1v2h-1zM766 495h1v2h-1zM767 493h1v2h-1zM768 489h1v4h-1zM769 484h1v5h-1zM770 479h1v5h-1zM771 474h1v5h-1zM772 469h1v5h-1zM773 464h1v5h-1zM774 459h1v5h-1zM775 455h1v4h-1zM776 453h1v2h-1zM777 452h1v1h-1zM778 451h1v1h-1zM779 450h1v1h-1zM780 449h1v1h-1zM781 448h1v1h-1zM782 447h1v1h-1zM783 446h1v1h-1zM784 444h1v2h-1zM785 441h1v3h-1zM786 439h1v2h-1zM787 436h1v3h-1zM788 434h1v2h-1zM789 432h1v2h-1zM790 430h1v2h-1zM791 428h1v2h-1zM792 427h1v1h-1zM793 426h15v1h-15zM808 425h18v1h-18zM826 426h1v1h-1zM827 427h2v1h-2zM829 428h1v1h-1zM830 429h2v1h-2zM832 430h1v1h-1zM833 431h2v1h-2zM835 432h3v1h-3zM838 433h3v1h-3zM841 434h2v1h-2zM843 435h3v1h-3zM846 436h3v1h-3zM849 437h2v1h-2zM851 438h3v1h-3zM854 439h3v1h-3zM857 438h6v1h-6zM863 437h6v1h-6zM869 436h2v1h-2zM871 437h2v1h-2zM873 438h1v1h-1zM874 439h2v1h-2zM876 440h2v1h-2zM878 441h1v1h-1zM879 442h2v1h-2zM881 443h2v1h-2zM883 444h1v1h-1zM884 445h2v1h-2zM886 446h2v1h-2zM888 447h2v1h-2zM890 448h2v1h-2zM892 449h3v1h-3zM895 450h2v1h-2zM897 451h2v1h-2zM899 452h2v1h-2zM901 453h2v1h-2zM903 454h2v1h-2zM905 455h3v1h-3zM908 456h2v1h-2zM910 457h2v1h-2zM912 458h1v1h-1zM913 459h1v1h-1zM914 460h1v1h-1zM915 461h1v1h-1zM916 462h1v2h-1zM917 464h1v1h-1zM918 465h1v1h-1zM919 466h1v1h-1zM920 467h1v2h-1zM921 469h1v1h-1zM922 470h1v1h-1zM923 471h1v1h-1zM924 472h1v1h-1zM925 473h1v1h-1zM926 474h1v1h-1zM927 475h2v1h-2zM929 476h1v1h-1zM930 477h1v1h-1zM931 478h2v1h-2zM933 479h1v1h-1zM934 480h1v1h-1zM935 481h2v1h-2zM937 482h1v1h-1zM938 483h1v1h-1zM939 484h2v1h-2zM941 485h1v1h-1zM942 486h2v1h-2zM944 487h2v1h-2zM946 488h1v1h-1zM947 489h2v1h-2zM949 490h2v1h-2zM951 491h2v1h-2zM953 492h1v1h-1zM954 493h2v1h-2zM956 494h2v1h-2zM958 495h1v1h-1zM959 496h7v1h-7zM966 495h7v1h-7zM973 496h2v1h-2zM975 497h2v1h-2zM977 498h2v1h-2zM979 499h3v1h-3zM982 500h4v1h-4zM986 501h4v1h-4zM990 502h3v1h-3zM993 503h2v1h-2zM995 504h2v1h-2zM997 505h2v1h-2zM999 506h2v1h-2zM1001 507h2v1h-2zM1003 508h2v1h-2zM1005 509h2v1h-2zM1007 510h2v1h-2zM1009 511h3v1h-3zM1012 512h3v1h-3zM1015 513h2v1h-2zM1017 512h2v1h-2zM1019 511h1v1h-1zM1020 510h2v1h-2zM1022 509h2v1h-2zM1024 508h2v1h-2zM1026 507h1v1h-1zM1027 506h2v1h-2zM1029 505h2v1h-2zM1031 504h19v1h-19zM1050 503h3v1h-3zM1053 502h3v1h-3zM1056 503h1v1h-1zM1057 504h1v1h-1zM1058 505h1v1h-1zM1059 506h1v1h-1zM1060 507h1v1h-1zM1061 508h1v1h-1zM1062 509h1v1h-1zM1063 510h15v1h-15zM1078 511h6v1h-6zM1084 512h6v1h-6zM1090 513h4v1h-4zM1094 514h6v1h-6zM1100 515h22v1h-22zM1122 514h3v1h-3zM1125 513h25v1h-25zM1150 514h3v1h-3zM1153 515h2v1h-2zM1155 516h2v1h-2zM1157 517h1v1h-1zM1158 518h2v1h-2zM1160 519h2v1h-2zM1162 520h1v1h-1zM1163 521h2v1h-2zM1165 522h1v1h-1zM1166 523h2v1h-2zM1168 524h49v1h-49zM1217 523h1v1h-1zM1218 522h1v1h-1zM1219 521h1v1h-1zM1220 519h1v2h-1zM1221 518h1v1h-1zM1222 517h1v1h-1zM1223 516h2v1h-2zM1225 515h2v1h-2zM1227 514h2v1h-2zM1229 513h2v1h-2zM1231 512h3v1h-3zM1234 511h2v1h-2zM1236 510h3v1h-3zM1239 509h2v1h-2zM1241 508h2v1h-2zM1243 507h2v1h-2zM1245 506h1v1h-1zM1246 505h2v1h-2zM1248 504h2v1h-2zM1250 503h7v1h-7zM1257 504h1v1h-1zM1258 505h2v1h-2zM1260 506h2v1h-2zM1262 507h1v1h-1zM1263 508h3v1h-3zM1266 509h4v1h-4zM1270 510h2v1h-2zM1272 509h3v1h-3zM1275 508h2v1h-2zM1277 507h3v1h-3zM1280 506h1v1h-1z" fill="#3cb371" shape-rendering="crispEdges" clip-path="url(#cm)"/>
<g shape-rendering="crispEdges">
<rect x="0" y="315" width="1618" height="2" fill="#ff0000"/>
<rect x="1613" y="314" width="4" height="4" fill="#fff" stroke="#ff0000" stroke-width="2"/>
<rect x="0" y="350" width="1618" height="2" fill="#ff0000"/>
<rect x="1613" y="349" width="4" height="4" fill="#fff" stroke="#ff0000" stroke-width="2"/>
<rect x="0" y="404" width="1618" height="2" fill="#ffa500"/>
<rect x="1613" y="403" width="4" height="4" fill="#fff" stroke="#ffa500" stroke-width="2"/>
<rect x="0" y="436" width="1618" height="2" fill="#0000ff"/>
<rect x="1613" y="435" width="4" height="4" fill="#fff" stroke="#0000ff" stroke-width="2"/>
<rect x="0" y="479" width="1618" height="2" fill="#0000ff"/>
</g>
<g clip-path="url(#cm)">
<line x1="1074" y1="526.1" x2="1300.6" y2="381.2" stroke="#e6121f" stroke-width="3.1"/>
<polygon points="1315.2,372.2 1296.2,374.6 1305.2,388.4" fill="#e6121f"/>
</g>
<polygon points="1286,28 1297,28 1291.5,33.5" fill="#000"/>
<polygon points="-1.5,34 3.5,34 1,36.8" fill="#000"/>
<g shape-rendering="crispEdges" clip-path="url(#c2)">
<rect x="-1" y="625" width="3" height="30" fill="#00ff00"/>
<rect x="7" y="625" width="3" height="28" fill="#00ff00"/>
<rect x="15" y="625" width="3" height="27" fill="#00ff00"/>
<rect x="23" y="625" width="3" height="26" fill="#00ff00"/>
<rect x="31" y="625" width="3" height="24" fill="#00ff00"/>
<rect x="39" y="625" width="3" height="21" fill="#00ff00"/>
<rect x="47" y="625" width="3" height="18" fill="#00ff00"/>
<rect x="55" y="625" width="3" height="16" fill="#00ff00"/>
<rect x="63" y="625" width="3" height="17" fill="#00ff00"/>
<rect x="71" y="625" width="3" height="15" fill="#00ff00"/>
<rect x="79" y="625" width="3" height="13" fill="#00ff00"/>
<rect x="87" y="625" width="3" height="11" fill="#00ff00"/>
<rect x="95" y="625" width="3" height="9" fill="#00ff00"/>
<rect x="103" y="625" width="3" height="6" fill="#00ff00"/>
<rect x="111" y="625" width="3" height="1" fill="#00ff00"/>
<rect x="119" y="624" width="3" height="1" fill="#00ff00"/>
<rect x="127" y="623" width="3" height="2" fill="#00ff00"/>
<rect x="135" y="621" width="3" height="4" fill="#00ff00"/>
<rect x="143" y="623" width="3" height="2" fill="#00ff00"/>
<rect x="151" y="624" width="3" height="1" fill="#00ff00"/>
<rect x="167" y="625" width="3" height="4" fill="#00ff00"/>
<rect x="175" y="625" width="3" height="6" fill="#00ff00"/>
<rect x="183" y="625" width="3" height="7" fill="#00ff00"/>
<rect x="191" y="625" width="3" height="9" fill="#00ff00"/>
<rect x="199" y="625" width="3" height="8" fill="#00ff00"/>
<rect x="207" y="625" width="3" height="2" fill="#00ff00"/>
<rect x="215" y="625" width="3" height="2" fill="#00ff00"/>
<rect x="223" y="624" width="3" height="1" fill="#00ff00"/>
<rect x="231" y="624" width="3" height="1" fill="#00ff00"/>
<rect x="239" y="624" width="3" height="1" fill="#00ff00"/>
<rect x="247" y="622" width="3" height="3" fill="#00ff00"/>
<rect x="255" y="616" width="3" height="9" fill="#00ff00"/>
<rect x="263" y="611" width="3" height="14" fill="#00ff00"/>
<rect x="271" y="606" width="3" height="19" fill="#00ff00"/>
<rect x="279" y="602" width="3" height="23" fill="#00ff00"/>
<rect x="287" y="596" width="3" height="29" fill="#00ff00"/>
<rect x="295" y="591" width="3" height="34" fill="#00ff00"/>
<rect x="303" y="590" width="3" height="35" fill="#00ff00"/>
<rect x="311" y="590" width="3" height="35" fill="#00ff00"/>
<rect x="319" y="590" width="3" height="35" fill="#00ff00"/>
<rect x="327" y="589" width="3" height="36" fill="#00ff00"/>
<rect x="335" y="588" width="3" height="37" fill="#00ff00"/>
<rect x="343" y="587" width="3" height="38" fill="#00ff00"/>
<rect x="351" y="588" width="3" height="37" fill="#00ff00"/>
<rect x="359" y="587" width="3" height="38" fill="#00ff00"/>
<rect x="367" y="586" width="3" height="39" fill="#00ff00"/>
<rect x="375" y="588" width="3" height="37" fill="#00ff00"/>
<rect x="383" y="586" width="3" height="39" fill="#00ff00"/>
<rect x="391" y="587" width="3" height="38" fill="#00ff00"/>
<rect x="399" y="589" width="3" height="36" fill="#00ff00"/>
<rect x="407" y="587" width="3" height="38" fill="#00ff00"/>
<rect x="415" y="587" width="3" height="38" fill="#00ff00"/>
<rect x="423" y="590" width="3" height="35" fill="#00ff00"/>
<rect x="431" y="592" width="3" height="33" fill="#00ff00"/>
<rect x="439" y="589" width="3" height="36" fill="#00ff00"/>
<rect x="447" y="584" width="3" height="41" fill="#00ff00"/>
<rect x="455" y="581" width="3" height="44" fill="#00ff00"/>
<rect x="463" y="579" width="3" height="46" fill="#00ff00"/>
<rect x="471" y="577" width="3" height="48" fill="#00ff00"/>
<rect x="479" y="575" width="3" height="50" fill="#00ff00"/>
<rect x="487" y="571" width="3" height="54" fill="#00ff00"/>
<rect x="495" y="567" width="3" height="58" fill="#00ff00"/>
<rect x="503" y="564" width="3" height="61" fill="#00ff00"/>
<rect x="511" y="563" width="3" height="62" fill="#00ff00"/>
<rect x="519" y="563" width="3" height="62" fill="#00ff00"/>
<rect x="527" y="568" width="3" height="57" fill="#00ff00"/>
<rect x="535" y="570" width="3" height="55" fill="#00ff00"/>
<rect x="543" y="567" width="3" height="58" fill="#00ff00"/>
<rect x="551" y="564" width="3" height="61" fill="#00ff00"/>
<rect x="559" y="566" width="3" height="59" fill="#00ff00"/>
<rect x="567" y="566" width="3" height="59" fill="#00ff00"/>
<rect x="575" y="568" width="3" height="57" fill="#00ff00"/>
<rect x="583" y="570" width="3" height="55" fill="#00ff00"/>
<rect x="591" y="569" width="3" height="56" fill="#00ff00"/>
<rect x="599" y="577" width="3" height="48" fill="#00ff00"/>
<rect x="607" y="582" width="3" height="43" fill="#00ff00"/>
<rect x="615" y="587" width="3" height="38" fill="#00ff00"/>
<rect x="623" y="603" width="3" height="22" fill="#00ff00"/>
<rect x="631" y="615" width="3" height="10" fill="#00ff00"/>
<rect x="639" y="625" width="3" height="11" fill="#00ff00"/>
<rect x="647" y="625" width="3" height="27" fill="#00ff00"/>
<rect x="655" y="625" width="3" height="39" fill="#00ff00"/>
<rect x="663" y="625" width="3" height="44" fill="#00ff00"/>
<rect x="671" y="625" width="3" height="54" fill="#00ff00"/>
<rect x="679" y="625" width="3" height="60" fill="#00ff00"/>
<rect x="687" y="625" width="3" height="59" fill="#00ff00"/>
<rect x="695" y="625" width="3" height="58" fill="#00ff00"/>
<rect x="703" y="625" width="3" height="57" fill="#00ff00"/>
<rect x="711" y="625" width="3" height="58" fill="#00ff00"/>
<rect x="719" y="625" width="3" height="59" fill="#00ff00"/>
<rect x="727" y="625" width="3" height="59" fill="#00ff00"/>
<rect x="735" y="625" width="3" height="57" fill="#00ff00"/>
<rect x="743" y="625" width="3" height="55" fill="#00ff00"/>
<rect x="751" y="625" width="3" height="53" fill="#00ff00"/>
<rect x="759" y="625" width="3" height="51" fill="#00ff00"/>
<rect x="767" y="625" width="3" height="51" fill="#00ff00"/>
<rect x="775" y="625" width="3" height="47" fill="#00ff00"/>
<rect x="783" y="625" width="3" height="45" fill="#00ff00"/>
<rect x="791" y="625" width="3" height="43" fill="#00ff00"/>
<rect x="799" y="625" width="3" height="41" fill="#00ff00"/>
<rect x="807" y="625" width="3" height="38" fill="#00ff00"/>
<rect x="815" y="625" width="3" height="35" fill="#00ff00"/>
<rect x="823" y="625" width="3" height="34" fill="#00ff00"/>
<rect x="831" y="625" width="3" height="35" fill="#00ff00"/>
<rect x="839" y="625" width="3" height="36" fill="#00ff00"/>
<rect x="847" y="625" width="3" height="36" fill="#00ff00"/>
<rect x="855" y="625" width="3" height="35" fill="#00ff00"/>
<rect x="863" y="625" width="3" height="32" fill="#00ff00"/>
<rect x="871" y="625" width="3" height="30" fill="#00ff00"/>
<rect x="879" y="625" width="3" height="31" fill="#00ff00"/>
<rect x="887" y="625" width="3" height="31" fill="#00ff00"/>
<rect x="895" y="625" width="3" height="31" fill="#00ff00"/>
<rect x="903" y="625" width="3" height="30" fill="#00ff00"/>
<rect x="911" y="625" width="3" height="29" fill="#00ff00"/>
<rect x="919" y="625" width="3" height="31" fill="#00ff00"/>
<rect x="927" y="625" width="3" height="33" fill="#00ff00"/>
<rect x="935" y="625" width="3" height="32" fill="#00ff00"/>
<rect x="943" y="625" width="3" height="33" fill="#00ff00"/>
<rect x="951" y="625" width="3" height="32" fill="#00ff00"/>
<rect x="959" y="625" width="3" height="31" fill="#00ff00"/>
<rect x="967" y="625" width="3" height="30" fill="#00ff00"/>
<rect x="975" y="625" width="3" height="30" fill="#00ff00"/>
<rect x="983" y="625" width="3" height="31" fill="#00ff00"/>
<rect x="991" y="625" width="3" height="30" fill="#00ff00"/>
<rect x="999" y="625" width="3" height="29" fill="#00ff00"/>
<rect x="1007" y="625" width="3" height="29" fill="#00ff00"/>
<rect x="1015" y="625" width="3" height="27" fill="#00ff00"/>
<rect x="1023" y="625" width="3" height="26" fill="#00ff00"/>
<rect x="1031" y="625" width="3" height="24" fill="#00ff00"/>
<rect x="1039" y="625" width="3" height="22" fill="#00ff00"/>
<rect x="1047" y="625" width="3" height="21" fill="#00ff00"/>
<rect x="1055" y="625" width="3" height="20" fill="#00ff00"/>
<rect x="1063" y="625" width="3" height="24" fill="#00ff00"/>
<rect x="1071" y="625" width="3" height="23" fill="#00ff00"/>
<rect x="1079" y="625" width="3" height="22" fill="#00ff00"/>
<rect x="1087" y="625" width="3" height="21" fill="#00ff00"/>
<rect x="1095" y="625" width="3" height="21" fill="#00ff00"/>
<rect x="1103" y="625" width="3" height="20" fill="#00ff00"/>
<rect x="1111" y="625" width="3" height="16" fill="#00ff00"/>
<rect x="1119" y="625" width="3" height="15" fill="#00ff00"/>
<rect x="1127" y="625" width="3" height="15" fill="#00ff00"/>
<rect x="1135" y="625" width="3" height="14" fill="#00ff00"/>
<rect x="1143" y="625" width="3" height="12" fill="#00ff00"/>
<rect x="1151" y="625" width="3" height="9" fill="#00ff00"/>
<rect x="1159" y="625" width="3" height="5" fill="#00ff00"/>
<rect x="1167" y="624" width="3" height="1" fill="#00ff00"/>
<rect x="1175" y="622" width="3" height="3" fill="#00ff00"/>
<rect x="1183" y="622" width="3" height="3" fill="#00ff00"/>
<rect x="1191" y="621" width="3" height="4" fill="#00ff00"/>
<rect x="1199" y="621" width="3" height="4" fill="#00ff00"/>
<rect x="1207" y="619" width="3" height="6" fill="#00ff00"/>
<rect x="1215" y="618" width="3" height="7" fill="#00ff00"/>
<rect x="1223" y="617" width="3" height="8" fill="#00ff00"/>
<rect x="1231" y="616" width="3" height="9" fill="#00ff00"/>
<rect x="1239" y="616" width="3" height="9" fill="#00ff00"/>
<rect x="1247" y="616" width="3" height="9" fill="#00ff00"/>
<rect x="1255" y="612" width="3" height="13" fill="#00ff00"/>
<rect x="1263" y="607" width="3" height="18" fill="#00ff00"/>
<rect x="1271" y="603" width="3" height="22" fill="#00ff00"/>
<rect x="1279" y="602" width="3" height="23" fill="#00ff00"/>
</g>
<path d="M-1 659h5v2h-5zM3 658h7v2h-7zM9 657h7v2h-7zM15 656h7v2h-7zM21 655h7v2h-7zM27 654h6v2h-6zM32 653h6v2h-6zM37 652h5v2h-5zM41 651h5v2h-5zM45 650h5v2h-5zM49 649h5v2h-5zM53 648h5v2h-5zM57 647h6v2h-6zM62 646h5v2h-5zM66 645h8v2h-8zM73 644h8v2h-8zM80 643h5v2h-5zM84 642h5v2h-5zM88 641h5v2h-5zM92 640h5v2h-5zM96 639h5v2h-5zM100 638h5v2h-5zM104 637h5v2h-5zM108 636h5v2h-5zM112 635h5v2h-5zM116 634h5v2h-5zM120 633h5v2h-5zM124 632h5v2h-5zM128 631h5v2h-5zM132 630h4v2h-4zM135 629h5v2h-5zM139 628h5v2h-5zM143 627h6v2h-6zM148 626h11v2h-11zM158 625h9v2h-9zM166 624h22v2h-22zM187 625h7v2h-7zM193 626h7v2h-7zM199 627h50v2h-50zM248 626h5v2h-5zM252 625h5v2h-5zM256 624h6v2h-6zM261 623h6v2h-6zM266 622h3v2h-3zM268 621h4v2h-4zM271 620h3v2h-3zM273 619h4v2h-4zM276 618h3v2h-3zM278 617h3v2h-3zM280 616h3v2h-3zM282 615h4v2h-4zM285 614h3v2h-3zM287 613h3v2h-3zM289 612h3v2h-3zM291 611h3v2h-3zM293 610h4v2h-4zM296 609h3v2h-3zM298 608h3v2h-3zM300 607h3v2h-3zM302 606h3v2h-3zM304 605h3v2h-3zM306 604h4v2h-4zM309 603h3v2h-3zM311 602h3v2h-3zM313 601h3v2h-3zM315 600h4v2h-4zM318 599h3v2h-3zM320 598h4v2h-4zM323 597h3v2h-3zM325 596h3v2h-3zM327 595h4v2h-4zM330 594h4v2h-4zM333 593h4v2h-4zM336 592h3v2h-3zM338 591h6v2h-6zM343 590h9v2h-9zM351 589h11v2h-11zM361 588h8v2h-8zM368 587h15v2h-15zM382 586h43v2h-43zM424 587h41v2h-41zM464 586h4v2h-4zM467 585h6v2h-6zM472 584h8v2h-8zM479 583h6v2h-6zM484 582h5v2h-5zM488 581h5v2h-5zM492 580h4v2h-4zM495 579h3v2h-3zM497 578h3v2h-3zM499 577h3v2h-3zM501 576h3v2h-3zM503 575h4v2h-4zM506 574h4v2h-4zM509 573h4v2h-4zM512 572h4v2h-4zM515 571h6v2h-6zM520 570h11v2h-11zM530 569h10v2h-10zM539 568h6v2h-6zM544 567h6v2h-6zM549 566h5v2h-5zM553 565h25v2h-25zM577 566h9v2h-9zM585 567h9v2h-9zM593 568h10v2h-10zM602 569h9v2h-9zM610 570h5v2h-5zM614 571h4v2h-4zM617 572h3v2h-3zM619 573h3v2h-3zM621 574h2v2h-2zM622 575h3v2h-3zM624 576h3v2h-3zM626 577h2v2h-2zM627 578h3v2h-3zM629 579h2v2h-2zM630 580h3v2h-3zM632 581h2v2h-2zM633 582h2v2h-2zM634 583h2v2h-2zM635 584h2v2h-2zM636 585h2v2h-2zM637 586h2v2h-2zM638 587h2v3h-2zM639 589h2v2h-2zM640 590h2v2h-2zM641 591h2v2h-2zM642 592h2v2h-2zM643 593h2v2h-2zM644 594h2v3h-2zM645 596h2v2h-2zM646 597h2v2h-2zM647 598h2v2h-2zM648 599h2v3h-2zM649 601h2v2h-2zM650 602h2v2h-2zM651 603h2v2h-2zM652 604h2v2h-2zM653 605h2v3h-2zM654 607h2v2h-2zM655 608h2v2h-2zM656 609h2v2h-2zM657 610h2v2h-2zM658 611h2v3h-2zM659 613h2v2h-2zM660 614h2v2h-2zM661 615h2v3h-2zM662 617h2v2h-2zM663 618h2v3h-2zM664 620h2v2h-2zM665 621h2v3h-2zM666 623h2v2h-2zM667 624h2v2h-2zM668 625h2v3h-2zM669 627h2v2h-2zM670 628h2v3h-2zM671 630h2v2h-2zM672 631h2v3h-2zM673 633h2v2h-2zM674 634h2v3h-2zM675 636h2v2h-2zM676 637h2v3h-2zM677 639h2v2h-2zM678 640h2v3h-2zM679 642h2v2h-2zM680 643h2v2h-2zM681 644h2v2h-2zM682 645h2v2h-2zM683 646h2v3h-2zM684 648h2v2h-2zM685 649h2v2h-2zM686 650h2v2h-2zM687 651h2v2h-2zM688 652h2v2h-2zM689 653h2v3h-2zM690 655h2v2h-2zM691 656h2v2h-2zM692 657h2v2h-2zM693 658h2v2h-2zM694 659h2v2h-2zM695 660h2v2h-2zM696 661h2v2h-2zM697 662h2v2h-2zM698 663h2v2h-2zM699 664h2v2h-2zM700 665h2v2h-2zM701 666h2v2h-2zM702 667h2v2h-2zM703 668h3v2h-3zM705 669h2v2h-2zM706 670h2v2h-2zM707 671h2v2h-2zM708 672h3v2h-3zM710 673h3v2h-3zM712 674h3v2h-3zM714 675h3v2h-3zM716 676h3v2h-3zM718 677h4v2h-4zM721 678h4v2h-4zM724 679h5v2h-5zM728 680h4v2h-4zM731 681h23v2h-23zM753 680h11v2h-11zM763 679h14v2h-14zM776 678h5v2h-5zM780 677h4v2h-4zM783 676h4v2h-4zM786 675h5v2h-5zM790 674h5v2h-5zM794 673h5v2h-5zM798 672h5v2h-5zM802 671h5v2h-5zM806 670h5v2h-5zM810 669h5v2h-5zM814 668h5v2h-5zM818 667h5v2h-5zM822 666h5v2h-5zM826 665h5v2h-5zM830 664h6v2h-6zM835 663h5v2h-5zM839 662h8v2h-8zM846 661h8v2h-8zM853 660h10v2h-10zM862 659h8v2h-8zM869 658h13v2h-13zM881 657h16v2h-16zM896 656h11v2h-11zM906 655h11v2h-11zM916 654h37v2h-37zM952 655h16v2h-16zM967 654h11v2h-11zM977 655h16v2h-16zM992 654h20v2h-20zM1011 653h9v2h-9zM1019 652h9v2h-9zM1027 651h9v2h-9zM1035 650h10v2h-10zM1044 649h11v2h-11zM1054 648h18v2h-18zM1071 647h14v2h-14zM1084 646h14v2h-14zM1097 645h13v2h-13zM1109 644h12v2h-12zM1120 643h9v2h-9zM1128 642h9v2h-9zM1136 641h9v2h-9zM1144 640h9v2h-9zM1152 639h5v2h-5zM1156 638h5v2h-5zM1160 637h6v2h-6zM1165 636h4v2h-4zM1168 635h4v2h-4zM1171 634h3v2h-3zM1173 633h4v2h-4zM1176 632h4v2h-4zM1179 631h5v2h-5zM1183 630h5v2h-5zM1187 629h5v2h-5zM1191 628h5v2h-5zM1195 627h5v2h-5zM1199 626h4v2h-4zM1202 625h5v2h-5zM1206 624h5v2h-5zM1210 623h4v2h-4zM1213 622h5v2h-5zM1217 621h6v2h-6zM1222 620h7v2h-7zM1228 619h12v2h-12zM1239 618h11v2h-11zM1249 617h9v2h-9zM1257 616h8v2h-8zM1264 615h5v2h-5zM1268 614h5v2h-5zM1272 613h6v2h-6zM1277 612h4v2h-4z" fill="#ff0000" shape-rendering="crispEdges" clip-path="url(#c2)"/>
<path d="M-1 767h2v2h-2zM0 766h4v2h-4zM3 765h4v2h-4zM6 764h3v2h-3zM8 765h3v2h-3zM10 766h3v2h-3zM12 767h2v2h-2zM13 768h3v2h-3zM15 769h10v2h-10zM24 768h3v2h-3zM26 767h3v2h-3zM28 766h3v2h-3zM30 765h3v2h-3zM32 764h3v2h-3zM34 763h2v2h-2zM35 762h3v2h-3zM37 761h3v2h-3zM39 760h2v2h-2zM40 759h2v2h-2zM41 758h2v2h-2zM42 757h2v2h-2zM43 756h3v2h-3zM45 755h2v2h-2zM46 754h2v2h-2zM47 753h2v2h-2zM48 754h3v2h-3zM50 755h2v2h-2zM51 756h2v2h-2zM52 757h3v2h-3zM54 758h2v2h-2zM55 759h2v2h-2zM56 760h2v2h-2zM57 761h3v2h-3zM59 762h2v2h-2zM60 763h2v2h-2zM61 764h2v2h-2zM62 765h2v2h-2zM63 766h2v2h-2zM64 765h2v2h-2zM65 764h2v2h-2zM66 763h2v2h-2zM67 762h2v2h-2zM68 761h2v2h-2zM69 759h2v3h-2zM70 758h2v2h-2zM71 757h10v2h-10zM80 756h3v2h-3zM82 755h3v2h-3zM84 754h3v2h-3zM86 753h11v2h-11zM96 752h2v2h-2zM97 751h3v2h-3zM99 750h2v2h-2zM100 749h2v2h-2zM101 748h3v2h-3zM103 747h2v2h-2zM104 746h2v2h-2zM105 745h3v2h-3zM107 744h2v2h-2zM108 743h2v2h-2zM109 742h3v2h-3zM111 741h2v2h-2zM112 742h3v2h-3zM114 743h3v2h-3zM116 744h2v2h-2zM117 745h3v2h-3zM119 746h18v2h-18zM136 747h2v3h-2zM137 749h2v2h-2zM138 750h2v3h-2zM139 752h2v2h-2zM140 753h2v3h-2zM141 755h2v2h-2zM142 756h2v3h-2zM143 758h12v2h-12zM154 759h7v2h-7zM160 760h2v2h-2zM161 761h3v2h-3zM163 762h3v2h-3zM165 763h3v2h-3zM167 764h18v2h-18zM184 765h3v2h-3zM186 766h3v2h-3zM188 767h2v2h-2zM189 768h3v2h-3zM191 768h2v3h-2zM192 766h2v3h-2zM193 764h2v3h-2zM194 762h2v3h-2zM195 760h2v3h-2zM196 758h2v3h-2zM197 756h2v3h-2zM198 754h2v3h-2zM199 753h2v2h-2zM200 752h2v2h-2zM201 751h2v2h-2zM202 749h2v3h-2zM203 748h2v2h-2zM204 747h2v2h-2zM205 746h2v2h-2zM206 745h2v2h-2zM207 744h4v2h-4zM210 745h3v2h-3zM212 746h4v2h-4zM215 747h11v2h-11zM225 748h3v2h-3zM227 749h3v2h-3zM229 750h3v2h-3zM231 751h12v2h-12zM242 750h6v2h-6zM247 749h2v3h-2zM248 747h2v3h-2zM249 744h2v4h-2zM250 742h2v3h-2zM251 740h2v3h-2zM252 738h2v3h-2zM253 735h2v4h-2zM254 733h2v3h-2zM255 732h3v2h-3zM257 731h4v2h-4zM260 730h4v2h-4zM263 729h11v2h-11zM273 728h8v2h-8zM280 727h3v2h-3zM282 726h2v2h-2zM283 725h3v2h-3zM285 724h2v2h-2zM286 723h3v2h-3zM288 722h4v2h-4zM291 721h3v2h-3zM293 720h3v2h-3zM295 720h2v3h-2zM296 722h2v2h-2zM297 723h2v3h-2zM298 725h2v3h-2zM299 727h2v3h-2zM300 729h2v3h-2zM301 731h2v3h-2zM302 733h2v3h-2zM303 735h7v2h-7zM309 736h13v2h-13zM321 735h4v2h-4zM324 734h5v2h-5zM328 733h3v2h-3zM330 732h3v2h-3zM332 731h3v2h-3zM334 730h11v2h-11zM344 731h3v2h-3zM346 732h3v2h-3zM348 733h2v2h-2zM349 734h3v2h-3zM351 735h2v2h-2zM352 734h2v2h-2zM353 733h2v2h-2zM354 732h3v2h-3zM356 731h2v2h-2zM357 730h2v2h-2zM358 729h2v2h-2zM359 728h10v2h-10zM368 729h2v2h-2zM369 730h2v2h-2zM370 731h2v2h-2zM371 732h3v2h-3zM373 733h2v2h-2zM374 734h2v2h-2zM375 735h3v2h-3zM377 734h3v2h-3zM379 733h3v2h-3zM381 732h5v2h-5zM385 733h3v2h-3zM387 734h2v2h-2zM388 735h3v2h-3zM390 736h2v2h-2zM391 737h10v2h-10zM400 736h2v2h-2zM401 735h3v2h-3zM403 734h2v2h-2zM404 733h3v2h-3zM406 732h8v2h-8zM413 733h5v2h-5zM417 734h3v2h-3zM419 735h3v2h-3zM421 736h3v2h-3zM423 737h4v2h-4zM426 738h3v2h-3zM428 739h3v2h-3zM430 740h3v2h-3zM432 739h2v2h-2zM433 737h2v3h-2zM434 736h2v2h-2zM435 735h2v2h-2zM436 734h2v2h-2zM437 733h2v2h-2zM438 732h2v2h-2zM439 731h2v2h-2zM440 730h2v2h-2zM441 729h2v2h-2zM442 728h2v2h-2zM443 727h2v2h-2zM444 726h3v2h-3zM446 725h2v2h-2zM447 724h6v2h-6zM452 725h15v2h-15zM466 724h8v2h-8zM473 723h3v2h-3zM475 722h4v2h-4zM478 721h4v2h-4zM481 720h4v2h-4zM484 719h3v2h-3zM486 718h4v2h-4zM489 717h5v2h-5zM493 716h13v2h-13zM505 717h2v2h-2zM506 718h3v2h-3zM508 719h2v2h-2zM509 720h3v2h-3zM511 721h3v2h-3zM513 722h4v2h-4zM516 723h3v2h-3zM518 724h2v2h-2zM519 724h2v3h-2zM520 726h2v3h-2zM521 728h2v3h-2zM522 730h2v3h-2zM523 732h2v3h-2zM524 734h2v4h-2zM525 737h2v3h-2zM526 739h2v3h-2zM527 741h2v2h-2zM528 740h3v2h-3zM530 739h2v2h-2zM531 738h2v2h-2zM532 737h2v2h-2zM533 736h3v2h-3zM535 735h2v2h-2zM536 734h2v2h-2zM537 733h2v2h-2zM538 731h2v3h-2zM539 730h2v2h-2zM540 729h2v2h-2zM541 728h2v2h-2zM542 727h2v2h-2zM543 726h10v2h-10zM552 727h3v2h-3zM554 728h2v2h-2zM555 729h2v2h-2zM556 730h3v2h-3zM558 731h2v2h-2zM559 732h14v2h-14zM572 733h14v2h-14zM585 732h4v2h-4zM588 731h3v2h-3zM590 730h2v2h-2zM591 730h2v3h-2zM592 732h2v3h-2zM593 734h2v3h-2zM594 736h2v4h-2zM595 739h2v3h-2zM596 741h2v3h-2zM597 743h2v3h-2zM598 745h2v4h-2zM599 748h17v2h-17zM615 748h2v3h-2zM616 750h2v4h-2zM617 753h2v4h-2zM618 756h2v4h-2zM619 759h2v3h-2zM620 761h2v4h-2zM621 764h2v4h-2zM622 767h2v4h-2zM623 770h2v3h-2zM624 771h4v2h-4zM627 770h6v2h-6zM632 771h2v3h-2zM633 773h2v2h-2zM634 774h2v2h-2zM635 775h2v3h-2zM636 777h2v2h-2zM637 778h2v2h-2zM638 779h2v3h-2zM639 781h12v2h-12zM650 780h7v2h-7zM656 779h2v2h-2zM657 778h2v2h-2zM658 777h2v2h-2zM659 776h2v2h-2zM660 775h3v2h-3zM662 774h2v2h-2zM663 773h3v2h-3zM665 774h3v2h-3zM667 775h3v2h-3zM669 776h3v2h-3zM671 777h9v2h-9zM679 776h2v3h-2zM680 775h2v2h-2zM681 773h2v3h-2zM682 772h2v2h-2zM683 770h2v3h-2zM684 769h2v2h-2zM685 767h2v3h-2zM686 766h2v2h-2zM687 765h8v2h-8zM694 766h12v2h-12zM705 767h2v2h-2zM706 768h3v2h-3zM708 769h2v2h-2zM709 770h3v2h-3zM711 771h11v2h-11zM721 770h7v2h-7zM727 769h10v2h-10zM736 768h4v2h-4zM739 767h3v2h-3zM741 766h16v2h-16zM756 767h6v2h-6zM761 768h4v2h-4zM764 769h3v2h-3zM766 770h3v2h-3zM768 769h2v2h-2zM769 768h3v2h-3zM771 767h2v2h-2zM772 766h2v2h-2zM773 765h3v2h-3zM775 764h6v2h-6zM780 765h16v2h-16zM795 764h14v2h-14zM808 763h6v2h-6zM813 762h6v2h-6zM818 763h5v2h-5zM822 764h3v2h-3zM824 765h2v2h-2zM825 766h2v2h-2zM826 767h3v2h-3zM828 768h2v2h-2zM829 769h2v2h-2zM830 770h2v2h-2zM831 771h22v2h-22zM852 772h4v2h-4zM855 771h2v3h-2zM856 769h2v3h-2zM857 768h2v2h-2zM858 766h2v3h-2zM859 764h2v3h-2zM860 762h2v3h-2zM861 761h2v2h-2zM862 759h2v3h-2zM863 758h4v2h-4zM866 759h5v2h-5zM870 760h3v2h-3zM872 761h2v2h-2zM873 762h2v2h-2zM874 763h2v2h-2zM875 764h2v2h-2zM876 765h2v2h-2zM877 766h2v2h-2zM878 767h2v2h-2zM879 768h11v2h-11zM889 767h5v2h-5zM893 766h20v2h-20zM912 767h2v2h-2zM913 768h2v2h-2zM914 769h2v2h-2zM915 770h2v2h-2zM916 771h2v2h-2zM917 772h2v2h-2zM918 773h2v2h-2zM919 774h10v2h-10zM928 773h2v2h-2zM929 772h3v2h-3zM931 771h2v2h-2zM932 770h2v2h-2zM933 769h3v2h-3zM935 768h4v2h-4zM938 769h5v2h-5zM942 770h15v2h-15zM956 771h5v2h-5zM960 770h2v2h-2zM961 769h2v2h-2zM962 767h2v3h-2zM963 766h2v2h-2zM964 765h2v2h-2zM965 764h2v2h-2zM966 763h2v2h-2zM967 762h2v2h-2zM968 763h2v2h-2zM969 764h2v2h-2zM970 765h2v2h-2zM971 766h2v2h-2zM972 767h2v2h-2zM973 768h2v2h-2zM974 769h2v2h-2zM975 770h2v2h-2zM976 769h3v2h-3zM978 768h3v2h-3zM980 767h3v2h-3zM982 766h7v2h-7zM988 767h13v2h-13zM1000 768h7v2h-7zM1006 769h3v2h-3zM1008 768h3v2h-3zM1010 767h3v2h-3zM1012 766h3v2h-3zM1014 765h10v2h-10zM1023 764h5v2h-5zM1027 763h4v2h-4zM1030 762h12v2h-12zM1041 763h5v2h-5zM1045 764h11v2h-11zM1055 764h2v3h-2zM1056 766h2v2h-2zM1057 767h2v3h-2zM1058 769h2v2h-2zM1059 770h2v3h-2zM1060 772h2v3h-2zM1061 774h2v2h-2zM1062 775h2v3h-2zM1063 776h2v3h-2zM1064 775h2v2h-2zM1065 773h2v3h-2zM1066 772h2v2h-2zM1067 771h2v2h-2zM1068 769h2v3h-2zM1069 768h2v2h-2zM1070 766h2v3h-2zM1071 765h3v2h-3zM1073 764h4v2h-4zM1076 763h3v2h-3zM1078 762h5v2h-5zM1082 763h5v2h-5zM1086 764h12v2h-12zM1097 763h3v2h-3zM1099 762h4v2h-4zM1102 761h3v2h-3zM1104 760h2v2h-2zM1105 759h2v2h-2zM1106 758h2v2h-2zM1107 757h2v2h-2zM1108 756h3v2h-3zM1110 755h2v2h-2zM1111 754h2v2h-2zM1112 755h3v2h-3zM1114 756h2v2h-2zM1115 757h2v2h-2zM1116 758h3v2h-3zM1118 759h2v2h-2zM1119 760h18v2h-18zM1136 759h3v2h-3zM1138 758h3v2h-3zM1140 757h3v2h-3zM1142 756h3v2h-3zM1144 755h2v2h-2zM1145 754h2v2h-2zM1146 753h2v2h-2zM1147 752h2v2h-2zM1148 751h2v2h-2zM1149 750h2v2h-2zM1150 749h2v2h-2zM1151 748h2v2h-2zM1152 747h2v2h-2zM1153 746h3v2h-3zM1155 745h2v2h-2zM1156 744h2v2h-2zM1157 743h3v2h-3zM1159 742h2v2h-2zM1160 741h4v2h-4zM1163 740h3v2h-3zM1165 739h4v2h-4zM1168 740h2v2h-2zM1169 741h2v2h-2zM1170 742h2v2h-2zM1171 743h2v2h-2zM1172 744h2v2h-2zM1173 745h2v2h-2zM1174 746h2v3h-2zM1175 748h5v2h-5zM1179 749h4v2h-4zM1182 750h6v2h-6zM1187 749h14v2h-14zM1200 748h3v2h-3zM1202 747h3v2h-3zM1204 746h3v2h-3zM1206 745h10v2h-10zM1215 744h7v2h-7zM1221 743h8v2h-8zM1228 744h7v2h-7zM1234 745h5v2h-5zM1238 746h6v2h-6zM1243 745h6v2h-6zM1248 743h2v3h-2zM1249 742h2v2h-2zM1250 741h2v2h-2zM1251 739h2v3h-2zM1252 738h2v2h-2zM1253 737h2v2h-2zM1254 736h2v2h-2zM1255 734h2v3h-2zM1256 733h2v2h-2zM1257 732h2v2h-2zM1258 731h2v2h-2zM1259 730h2v2h-2zM1260 729h2v2h-2zM1261 728h2v2h-2zM1262 727h2v2h-2zM1263 726h5v2h-5zM1267 727h5v2h-5zM1271 728h3v2h-3zM1273 729h3v2h-3zM1275 730h3v2h-3zM1277 731h3v2h-3zM1279 732h2v2h-2z" fill="#1e90ff" shape-rendering="crispEdges" clip-path="url(#c3)"/>
<g shape-rendering="crispEdges">
<line x1="-1" y1="718.5" x2="1617" y2="718.5" stroke="#000" stroke-width="1" stroke-dasharray="3 3"/>
<line x1="-1" y1="754.5" x2="1617" y2="754.5" stroke="#000" stroke-width="1" stroke-dasharray="3 3"/>
<line x1="-1" y1="796.5" x2="1617" y2="796.5" stroke="#000" stroke-width="1" stroke-dasharray="3 3"/>
</g>
<g shape-rendering="crispEdges" fill="#000">
<rect x="0" y="27" width="1619" height="1"/>
<rect x="0" y="553" width="1619" height="1"/>
<rect x="0" y="555" width="1619" height="1"/>
<rect x="0" y="691" width="1619" height="1"/>
<rect x="0" y="693" width="1619" height="1"/>
<rect x="0" y="814" width="1619" height="1"/>
<rect x="1618" y="27" width="1" height="527"/>
<rect x="1618" y="555" width="1" height="137"/>
<rect x="1618" y="693" width="1" height="122"/>
<rect x="1619" y="55" width="2" height="1"/>
<rect x="1619" y="88" width="2" height="1"/>
<rect x="1619" y="121" width="2" height="1"/>
<rect x="1619" y="154" width="2" height="1"/>
<rect x="1619" y="187" width="2" height="1"/>
<rect x="1619" y="220" width="2" height="1"/>
<rect x="1619" y="253" width="2" height="1"/>
<rect x="1619" y="286" width="2" height="1"/>
<rect x="1619" y="319" width="2" height="1"/>
<rect x="1619" y="352" width="2" height="1"/>
<rect x="1619" y="385" width="2" height="1"/>
<rect x="1619" y="418" width="2" height="1"/>
<rect x="1619" y="451" width="2" height="1"/>
<rect x="1619" y="484" width="2" height="1"/>
<rect x="1619" y="517" width="2" height="1"/>
<rect x="1619" y="550" width="2" height="1"/>
<rect x="1619" y="557" width="1" height="1"/>
<rect x="1619" y="625" width="1" height="1"/>
<rect x="1619" y="690" width="1" height="1"/>
<rect x="1619" y="695" width="1" height="1"/>
<rect x="1619" y="718" width="1" height="1"/>
<rect x="1619" y="754" width="1" height="1"/>
<rect x="1619" y="796" width="1" height="1"/>
<rect x="1619" y="813" width="1" height="1"/>
<rect x="56" y="815" width="1" height="3"/>
<rect x="120" y="815" width="1" height="3"/>
<rect x="184" y="815" width="1" height="3"/>
<rect x="248" y="815" width="1" height="3"/>
<rect x="312" y="815" width="1" height="3"/>
<rect x="376" y="815" width="1" height="3"/>
<rect x="440" y="815" width="1" height="3"/>
<rect x="504" y="815" width="1" height="3"/>
<rect x="568" y="815" width="1" height="3"/>
<rect x="632" y="815" width="1" height="3"/>
<rect x="696" y="815" width="1" height="3"/>
<rect x="760" y="815" width="1" height="3"/>
<rect x="824" y="815" width="1" height="3"/>
<rect x="888" y="815" width="1" height="3"/>
<rect x="952" y="815" width="1" height="3"/>
<rect x="1016" y="815" width="1" height="3"/>
<rect x="1080" y="815" width="1" height="3"/>
<rect x="1144" y="815" width="1" height="3"/>
<rect x="1208" y="815" width="1" height="3"/>
<rect x="1272" y="815" width="1" height="3"/>
</g>
<g>
<text x="1624" y="59" fill="#000" textLength="32.4" lengthAdjust="spacingAndGlyphs" xml:space="preserve">1.00470</text>
<text x="1624" y="92" fill="#000" textLength="32.4" lengthAdjust="spacingAndGlyphs" xml:space="preserve">1.00090</text>
<text x="1624" y="125" fill="#000" textLength="32.4" lengthAdjust="spacingAndGlyphs" xml:space="preserve">0.99720</text>
<text x="1624" y="158" fill="#000" textLength="32.4" lengthAdjust="spacingAndGlyphs" xml:space="preserve">0.99340</text>
<text x="1624" y="191" fill="#000" textLength="32.4" lengthAdjust="spacingAndGlyphs" xml:space="preserve">0.98960</text>
<text x="1624" y="224" fill="#000" textLength="32.4" lengthAdjust="spacingAndGlyphs" xml:space="preserve">0.98590</text>
<text x="1624" y="257" fill="#000" textLength="32.4" lengthAdjust="spacingAndGlyphs" xml:space="preserve">0.98210</text>
<text x="1624" y="290" fill="#000" textLength="32.4" lengthAdjust="spacingAndGlyphs" xml:space="preserve">0.97840</text>
<text x="1624" y="323" fill="#000" textLength="32.4" lengthAdjust="spacingAndGlyphs" xml:space="preserve">0.97460</text>
<text x="1624" y="356" fill="#000" textLength="32.4" lengthAdjust="spacingAndGlyphs" xml:space="preserve">0.97090</text>
<text x="1624" y="389" fill="#000" textLength="32.4" lengthAdjust="spacingAndGlyphs" xml:space="preserve">0.96710</text>
<text x="1624" y="422" fill="#000" textLength="32.4" lengthAdjust="spacingAndGlyphs" xml:space="preserve">0.96330</text>
<text x="1624" y="455" fill="#000" textLength="32.4" lengthAdjust="spacingAndGlyphs" xml:space="preserve">0.95960</text>
<text x="1624" y="488" fill="#000" textLength="32.4" lengthAdjust="spacingAndGlyphs" xml:space="preserve">0.95580</text>
<text x="1624" y="521" fill="#000" textLength="32.4" lengthAdjust="spacingAndGlyphs" xml:space="preserve">0.95200</text>
<text x="1624" y="554" fill="#000" textLength="32.4" lengthAdjust="spacingAndGlyphs" xml:space="preserve">0.94830</text>
<text x="1622" y="566" fill="#000" textLength="32.4" lengthAdjust="spacingAndGlyphs" xml:space="preserve">0.00711</text>
<text x="1622" y="629" fill="#000" textLength="17.4" lengthAdjust="spacingAndGlyphs" xml:space="preserve">0.00</text>
<text x="1622" y="688" fill="#000" textLength="41.4" lengthAdjust="spacingAndGlyphs" xml:space="preserve">-0.006888</text>
<text x="1622" y="704" fill="#000" textLength="14.4" lengthAdjust="spacingAndGlyphs" xml:space="preserve">100</text>
<text x="1622" y="722" fill="#000" textLength="9.4" lengthAdjust="spacingAndGlyphs" xml:space="preserve">80</text>
<text x="1622" y="758" fill="#000" textLength="9.4" lengthAdjust="spacingAndGlyphs" xml:space="preserve">50</text>
<text x="1622" y="800" fill="#000" textLength="9.4" lengthAdjust="spacingAndGlyphs" xml:space="preserve">15</text>
<text x="1622" y="811" fill="#000" textLength="4.4" lengthAdjust="spacingAndGlyphs" xml:space="preserve">0</text>
</g>
<g>
<rect x="1620" y="310" width="41" height="11" fill="#ff0000" shape-rendering="crispEdges"/>
<text x="1624" y="319.2" fill="#fff" textLength="32.4" lengthAdjust="spacingAndGlyphs" xml:space="preserve">0.97495</text>
<rect x="1620" y="345" width="41" height="11" fill="#ff0000" shape-rendering="crispEdges"/>
<text x="1624" y="354.2" fill="#fff" textLength="32.4" lengthAdjust="spacingAndGlyphs" xml:space="preserve">0.97097</text>
<rect x="1620" y="399" width="41" height="11" fill="#ffa500" shape-rendering="crispEdges"/>
<text x="1624" y="408.2" fill="#fff" textLength="32.4" lengthAdjust="spacingAndGlyphs" xml:space="preserve">0.96483</text>
<rect x="1620" y="431" width="41" height="11" fill="#0000ff" shape-rendering="crispEdges"/>
<text x="1624" y="440.2" fill="#fff" textLength="32.4" lengthAdjust="spacingAndGlyphs" xml:space="preserve">0.96119</text>
<rect x="1620" y="474" width="41" height="11" fill="#0000ff" shape-rendering="crispEdges"/>
<text x="1624" y="483.2" fill="#fff" textLength="32.4" lengthAdjust="spacingAndGlyphs" xml:space="preserve">0.95622</text>
<rect x="1620" y="379" width="41" height="11" fill="#000" shape-rendering="crispEdges"/>
<text x="1624" y="388.2" fill="#fff" textLength="32.4" lengthAdjust="spacingAndGlyphs" xml:space="preserve">0.96721</text>
</g>
<text x="7.4" y="39" fill="#000" textLength="57.4" lengthAdjust="spacingAndGlyphs" xml:space="preserve">USDCHF-,H4</text>
<text x="71" y="39" fill="#000" textLength="32.4" lengthAdjust="spacingAndGlyphs" xml:space="preserve">0.96817</text>
<text x="107" y="39" fill="#000" textLength="32.4" lengthAdjust="spacingAndGlyphs" xml:space="preserve">0.96876</text>
<text x="143" y="39" fill="#000" textLength="32.4" lengthAdjust="spacingAndGlyphs" xml:space="preserve">0.96721</text>
<text x="179" y="39" fill="#000" textLength="32.4" lengthAdjust="spacingAndGlyphs" xml:space="preserve">0.96721</text>
<text x="-1.4" y="569" fill="#000" textLength="26.4" lengthAdjust="spacingAndGlyphs" xml:space="preserve">MACD</text>
<text x="25.8" y="569" fill="#000" textLength="36.4" lengthAdjust="spacingAndGlyphs" xml:space="preserve">(12,26,9)</text>
<text x="65.4" y="569" fill="#000" textLength="37.4" lengthAdjust="spacingAndGlyphs" xml:space="preserve">0.002390</text>
<text x="106.4" y="569" fill="#000" textLength="37.4" lengthAdjust="spacingAndGlyphs" xml:space="preserve">0.001328</text>
<text x="-3.7" y="707" fill="#000" textLength="15.4" lengthAdjust="spacingAndGlyphs" xml:space="preserve">RSI</text>
<text x="12.3" y="707" fill="#000" textLength="15.4" lengthAdjust="spacingAndGlyphs" xml:space="preserve">(14)</text>
<text x="31.6" y="707" fill="#000" textLength="32.4" lengthAdjust="spacingAndGlyphs" xml:space="preserve">67.2925</text>
<text x="-8.7" y="827" fill="#000" textLength="53.4" lengthAdjust="spacingAndGlyphs" xml:space="preserve">30 May 2022</text>
<text x="55.3" y="827" fill="#000" textLength="57.4" lengthAdjust="spacingAndGlyphs" xml:space="preserve">31 May 08:00</text>
<text x="119.3" y="827" fill="#000" textLength="47.4" lengthAdjust="spacingAndGlyphs" xml:space="preserve">1 Jun 16:00</text>
<text x="183.3" y="827" fill="#000" textLength="47.4" lengthAdjust="spacingAndGlyphs" xml:space="preserve">3 Jun 00:00</text>
<text x="247.3" y="827" fill="#000" textLength="47.4" lengthAdjust="spacingAndGlyphs" xml:space="preserve">6 Jun 08:00</text>
<text x="311.3" y="827" fill="#000" textLength="47.4" lengthAdjust="spacingAndGlyphs" xml:space="preserve">7 Jun 16:00</text>
<text x="375.3" y="827" fill="#000" textLength="47.4" lengthAdjust="spacingAndGlyphs" xml:space="preserve">9 Jun 00:00</text>
<text x="439.3" y="827" fill="#000" textLength="52.4" lengthAdjust="spacingAndGlyphs" xml:space="preserve">10 Jun 08:00</text>
<text x="503.3" y="827" fill="#000" textLength="52.4" lengthAdjust="spacingAndGlyphs" xml:space="preserve">13 Jun 16:00</text>
<text x="567.3" y="827" fill="#000" textLength="52.4" lengthAdjust="spacingAndGlyphs" xml:space="preserve">15 Jun 00:00</text>
<text x="631.3" y="827" fill="#000" textLength="52.4" lengthAdjust="spacingAndGlyphs" xml:space="preserve">16 Jun 08:00</text>
<text x="695.3" y="827" fill="#000" textLength="52.4" lengthAdjust="spacingAndGlyphs" xml:space="preserve">17 Jun 16:00</text>
<text x="759.3" y="827" fill="#000" textLength="52.4" lengthAdjust="spacingAndGlyphs" xml:space="preserve">21 Jun 00:00</text>
<text x="823.3" y="827" fill="#000" textLength="52.4" lengthAdjust="spacingAndGlyphs" xml:space="preserve">22 Jun 08:00</text>
<text x="887.3" y="827" fill="#000" textLength="52.4" lengthAdjust="spacingAndGlyphs" xml:space="preserve">23 Jun 16:00</text>
<text x="951.3" y="827" fill="#000" textLength="52.4" lengthAdjust="spacingAndGlyphs" xml:space="preserve">27 Jun 00:00</text>
<text x="1015.3" y="827" fill="#000" textLength="52.4" lengthAdjust="spacingAndGlyphs" xml:space="preserve">28 Jun 08:00</text>
<text x="1079.3" y="827" fill="#000" textLength="52.4" lengthAdjust="spacingAndGlyphs" xml:space="preserve">29 Jun 16:00</text>
<text x="1143.3" y="827" fill="#000" textLength="44.4" lengthAdjust="spacingAndGlyphs" xml:space="preserve">1 Jul 00:00</text>
<text x="1207.3" y="827" fill="#000" textLength="44.4" lengthAdjust="spacingAndGlyphs" xml:space="preserve">4 Jul 08:00</text>
<text x="1271.3" y="827" fill="#000" textLength="44.4" lengthAdjust="spacingAndGlyphs" xml:space="preserve">5 Jul 16:00</text>
</svg>
</body></html>
